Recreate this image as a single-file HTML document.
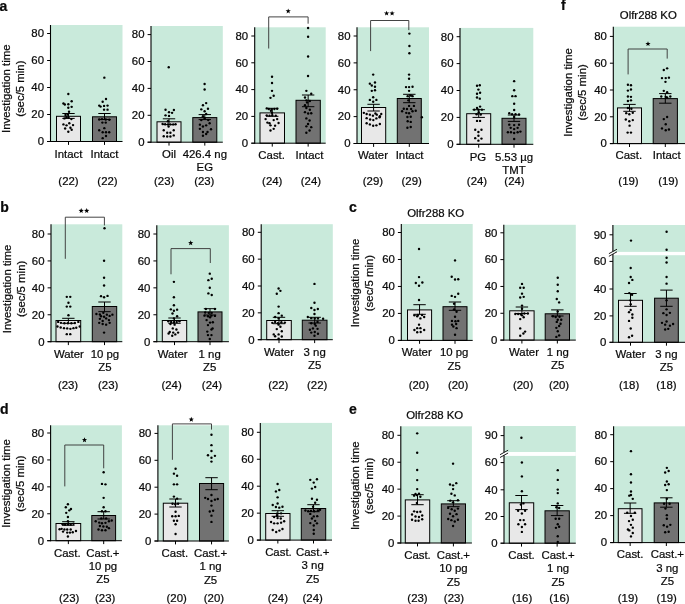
<!DOCTYPE html>
<html><head><meta charset="utf-8"><style>
html,body{margin:0;padding:0;background:#fff;}
svg{display:block;will-change:transform;}
text{font-family:"Liberation Sans", sans-serif;fill:#0a0a0a;stroke:#0a0a0a;stroke-width:0.22px;}
</style></head><body>
<svg width="685" height="604" viewBox="0 0 685 604" font-family="Liberation Sans, sans-serif">
<rect width="685" height="604" fill="#fff"/>
<rect x="50.50" y="25.00" width="72.00" height="116.50" fill="#c9eadb"/>
<line x1="47.10" y1="141.50" x2="50.50" y2="141.50" stroke="#000" stroke-width="1.0"/>
<text x="44.00" y="145.30" font-size="11.4" text-anchor="end" font-weight="normal" >0</text>
<line x1="47.10" y1="114.50" x2="50.50" y2="114.50" stroke="#000" stroke-width="1.0"/>
<text x="44.00" y="118.30" font-size="11.4" text-anchor="end" font-weight="normal" >20</text>
<line x1="47.10" y1="87.50" x2="50.50" y2="87.50" stroke="#000" stroke-width="1.0"/>
<text x="44.00" y="91.30" font-size="11.4" text-anchor="end" font-weight="normal" >40</text>
<line x1="47.10" y1="60.50" x2="50.50" y2="60.50" stroke="#000" stroke-width="1.0"/>
<text x="44.00" y="64.30" font-size="11.4" text-anchor="end" font-weight="normal" >60</text>
<line x1="47.10" y1="33.50" x2="50.50" y2="33.50" stroke="#000" stroke-width="1.0"/>
<text x="44.00" y="37.30" font-size="11.4" text-anchor="end" font-weight="normal" >80</text>
<rect x="56.50" y="116.30" width="24.00" height="25.20" fill="#e8e8e8" stroke="#000" stroke-width="1"/>
<line x1="68.50" y1="113.50" x2="68.50" y2="118.40" stroke="#000" stroke-width="1.0"/>
<line x1="62.30" y1="113.50" x2="74.70" y2="113.50" stroke="#000" stroke-width="1.0"/>
<line x1="62.30" y1="118.40" x2="74.70" y2="118.40" stroke="#000" stroke-width="1.0"/>
<line x1="68.50" y1="141.50" x2="68.50" y2="144.90" stroke="#000" stroke-width="1.0"/>
<text x="68.50" y="158.00" font-size="11.4" text-anchor="middle" font-weight="normal" >Intact</text>
<text x="68.50" y="185.00" font-size="11.4" text-anchor="middle" font-weight="normal" >(22)</text>
<rect x="92.50" y="116.80" width="24.00" height="24.70" fill="#727272" stroke="#000" stroke-width="1"/>
<line x1="104.50" y1="113.50" x2="104.50" y2="119.50" stroke="#000" stroke-width="1.0"/>
<line x1="98.30" y1="113.50" x2="110.70" y2="113.50" stroke="#000" stroke-width="1.0"/>
<line x1="98.30" y1="119.50" x2="110.70" y2="119.50" stroke="#000" stroke-width="1.0"/>
<line x1="104.50" y1="141.50" x2="104.50" y2="144.90" stroke="#000" stroke-width="1.0"/>
<text x="104.50" y="158.00" font-size="11.4" text-anchor="middle" font-weight="normal" >Intact</text>
<text x="107.50" y="185.00" font-size="11.4" text-anchor="middle" font-weight="normal" >(22)</text>
<line x1="50.50" y1="25.00" x2="50.50" y2="142.00" stroke="#000" stroke-width="1.1"/>
<line x1="47.10" y1="141.50" x2="122.50" y2="141.50" stroke="#000" stroke-width="1.0"/>
<rect x="151.00" y="26.00" width="71.80" height="116.20" fill="#c9eadb"/>
<line x1="147.60" y1="142.20" x2="151.00" y2="142.20" stroke="#000" stroke-width="1.0"/>
<text x="144.50" y="146.00" font-size="11.4" text-anchor="end" font-weight="normal" >0</text>
<line x1="147.60" y1="115.30" x2="151.00" y2="115.30" stroke="#000" stroke-width="1.0"/>
<text x="144.50" y="119.10" font-size="11.4" text-anchor="end" font-weight="normal" >20</text>
<line x1="147.60" y1="88.40" x2="151.00" y2="88.40" stroke="#000" stroke-width="1.0"/>
<text x="144.50" y="92.20" font-size="11.4" text-anchor="end" font-weight="normal" >40</text>
<line x1="147.60" y1="61.50" x2="151.00" y2="61.50" stroke="#000" stroke-width="1.0"/>
<text x="144.50" y="65.30" font-size="11.4" text-anchor="end" font-weight="normal" >60</text>
<line x1="147.60" y1="34.60" x2="151.00" y2="34.60" stroke="#000" stroke-width="1.0"/>
<text x="144.50" y="38.40" font-size="11.4" text-anchor="end" font-weight="normal" >80</text>
<rect x="157.00" y="121.80" width="24.00" height="20.40" fill="#e8e8e8" stroke="#000" stroke-width="1"/>
<line x1="169.00" y1="118.80" x2="169.00" y2="124.60" stroke="#000" stroke-width="1.0"/>
<line x1="162.80" y1="118.80" x2="175.20" y2="118.80" stroke="#000" stroke-width="1.0"/>
<line x1="162.80" y1="124.60" x2="175.20" y2="124.60" stroke="#000" stroke-width="1.0"/>
<line x1="169.00" y1="142.20" x2="169.00" y2="145.60" stroke="#000" stroke-width="1.0"/>
<text x="169.00" y="158.00" font-size="11.4" text-anchor="middle" font-weight="normal" >Oil</text>
<text x="164.20" y="185.00" font-size="11.4" text-anchor="middle" font-weight="normal" >(23)</text>
<rect x="192.80" y="117.60" width="24.00" height="24.60" fill="#727272" stroke="#000" stroke-width="1"/>
<line x1="204.80" y1="114.60" x2="204.80" y2="119.60" stroke="#000" stroke-width="1.0"/>
<line x1="198.60" y1="114.60" x2="211.00" y2="114.60" stroke="#000" stroke-width="1.0"/>
<line x1="198.60" y1="119.60" x2="211.00" y2="119.60" stroke="#000" stroke-width="1.0"/>
<line x1="204.80" y1="142.20" x2="204.80" y2="145.60" stroke="#000" stroke-width="1.0"/>
<text x="204.80" y="158.00" font-size="11.4" text-anchor="middle" font-weight="normal" >426.4 ng</text>
<text x="204.80" y="171.35" font-size="11.4" text-anchor="middle" font-weight="normal" >EG</text>
<text x="204.30" y="185.00" font-size="11.4" text-anchor="middle" font-weight="normal" >(23)</text>
<line x1="151.00" y1="26.00" x2="151.00" y2="142.70" stroke="#000" stroke-width="1.1"/>
<line x1="147.60" y1="142.20" x2="222.80" y2="142.20" stroke="#000" stroke-width="1.0"/>
<rect x="254.70" y="27.30" width="71.00" height="115.90" fill="#c9eadb"/>
<line x1="251.30" y1="143.20" x2="254.70" y2="143.20" stroke="#000" stroke-width="1.0"/>
<text x="248.20" y="147.00" font-size="11.4" text-anchor="end" font-weight="normal" >0</text>
<line x1="251.30" y1="116.40" x2="254.70" y2="116.40" stroke="#000" stroke-width="1.0"/>
<text x="248.20" y="120.20" font-size="11.4" text-anchor="end" font-weight="normal" >20</text>
<line x1="251.30" y1="89.60" x2="254.70" y2="89.60" stroke="#000" stroke-width="1.0"/>
<text x="248.20" y="93.40" font-size="11.4" text-anchor="end" font-weight="normal" >40</text>
<line x1="251.30" y1="62.80" x2="254.70" y2="62.80" stroke="#000" stroke-width="1.0"/>
<text x="248.20" y="66.60" font-size="11.4" text-anchor="end" font-weight="normal" >60</text>
<line x1="251.30" y1="36.00" x2="254.70" y2="36.00" stroke="#000" stroke-width="1.0"/>
<text x="248.20" y="39.80" font-size="11.4" text-anchor="end" font-weight="normal" >80</text>
<rect x="260.00" y="112.90" width="24.50" height="30.30" fill="#e8e8e8" stroke="#000" stroke-width="1"/>
<line x1="272.25" y1="108.30" x2="272.25" y2="116.30" stroke="#000" stroke-width="1.0"/>
<line x1="266.05" y1="108.30" x2="278.45" y2="108.30" stroke="#000" stroke-width="1.0"/>
<line x1="266.05" y1="116.30" x2="278.45" y2="116.30" stroke="#000" stroke-width="1.0"/>
<line x1="272.25" y1="143.20" x2="272.25" y2="146.60" stroke="#000" stroke-width="1.0"/>
<text x="271.65" y="159.00" font-size="11.4" text-anchor="middle" font-weight="normal" >Cast.</text>
<text x="272.25" y="185.00" font-size="11.4" text-anchor="middle" font-weight="normal" >(24)</text>
<rect x="296.00" y="100.30" width="24.30" height="42.90" fill="#727272" stroke="#000" stroke-width="1"/>
<line x1="308.15" y1="95.00" x2="308.15" y2="106.70" stroke="#000" stroke-width="1.0"/>
<line x1="301.95" y1="95.00" x2="314.35" y2="95.00" stroke="#000" stroke-width="1.0"/>
<line x1="301.95" y1="106.70" x2="314.35" y2="106.70" stroke="#000" stroke-width="1.0"/>
<line x1="308.15" y1="143.20" x2="308.15" y2="146.60" stroke="#000" stroke-width="1.0"/>
<text x="309.45" y="159.00" font-size="11.4" text-anchor="middle" font-weight="normal" >Intact</text>
<text x="310.95" y="185.00" font-size="11.4" text-anchor="middle" font-weight="normal" >(24)</text>
<line x1="254.70" y1="27.30" x2="254.70" y2="143.70" stroke="#000" stroke-width="1.1"/>
<line x1="251.30" y1="143.20" x2="325.70" y2="143.20" stroke="#000" stroke-width="1.0"/>
<polyline points="268.7,48.5 268.7,16.9 308.1,16.9 308.1,23.7" fill="none" stroke="#3a3a3a" stroke-width="0.95"/>
<polygon points="288.20,8.45 288.88,10.27 290.82,10.35 289.29,11.56 289.82,13.42 288.20,12.35 286.58,13.42 287.11,11.56 285.58,10.35 287.52,10.27" fill="#000"/>
<rect x="357.00" y="27.30" width="72.00" height="116.20" fill="#c9eadb"/>
<line x1="353.60" y1="143.50" x2="357.00" y2="143.50" stroke="#000" stroke-width="1.0"/>
<text x="350.50" y="147.30" font-size="11.4" text-anchor="end" font-weight="normal" >0</text>
<line x1="353.60" y1="116.62" x2="357.00" y2="116.62" stroke="#000" stroke-width="1.0"/>
<text x="350.50" y="120.42" font-size="11.4" text-anchor="end" font-weight="normal" >20</text>
<line x1="353.60" y1="89.75" x2="357.00" y2="89.75" stroke="#000" stroke-width="1.0"/>
<text x="350.50" y="93.55" font-size="11.4" text-anchor="end" font-weight="normal" >40</text>
<line x1="353.60" y1="62.88" x2="357.00" y2="62.88" stroke="#000" stroke-width="1.0"/>
<text x="350.50" y="66.67" font-size="11.4" text-anchor="end" font-weight="normal" >60</text>
<line x1="353.60" y1="36.00" x2="357.00" y2="36.00" stroke="#000" stroke-width="1.0"/>
<text x="350.50" y="39.80" font-size="11.4" text-anchor="end" font-weight="normal" >80</text>
<rect x="361.50" y="107.50" width="24.20" height="36.00" fill="#e8e8e8" stroke="#000" stroke-width="1"/>
<line x1="373.60" y1="104.30" x2="373.60" y2="111.00" stroke="#000" stroke-width="1.0"/>
<line x1="367.40" y1="104.30" x2="379.80" y2="104.30" stroke="#000" stroke-width="1.0"/>
<line x1="367.40" y1="111.00" x2="379.80" y2="111.00" stroke="#000" stroke-width="1.0"/>
<line x1="373.60" y1="143.50" x2="373.60" y2="146.90" stroke="#000" stroke-width="1.0"/>
<text x="373.00" y="159.30" font-size="11.4" text-anchor="middle" font-weight="normal" >Water</text>
<text x="372.90" y="185.00" font-size="11.4" text-anchor="middle" font-weight="normal" >(29)</text>
<rect x="397.30" y="98.50" width="24.00" height="45.00" fill="#727272" stroke="#000" stroke-width="1"/>
<line x1="409.30" y1="94.30" x2="409.30" y2="102.70" stroke="#000" stroke-width="1.0"/>
<line x1="403.10" y1="94.30" x2="415.50" y2="94.30" stroke="#000" stroke-width="1.0"/>
<line x1="403.10" y1="102.70" x2="415.50" y2="102.70" stroke="#000" stroke-width="1.0"/>
<line x1="409.30" y1="143.50" x2="409.30" y2="146.90" stroke="#000" stroke-width="1.0"/>
<text x="409.60" y="159.30" font-size="11.4" text-anchor="middle" font-weight="normal" >Intact</text>
<text x="411.70" y="185.00" font-size="11.4" text-anchor="middle" font-weight="normal" >(29)</text>
<line x1="357.00" y1="27.30" x2="357.00" y2="144.00" stroke="#000" stroke-width="1.1"/>
<line x1="353.60" y1="143.50" x2="429.00" y2="143.50" stroke="#000" stroke-width="1.0"/>
<polyline points="370.6,51.1 370.6,20.5 408.8,20.5 408.8,30.1" fill="none" stroke="#3a3a3a" stroke-width="0.95"/>
<polygon points="386.60,10.65 387.28,12.47 389.22,12.55 387.69,13.76 388.22,15.62 386.60,14.55 384.98,15.62 385.51,13.76 383.98,12.55 385.92,12.47" fill="#000"/>
<polygon points="392.10,10.65 392.78,12.47 394.72,12.55 393.19,13.76 393.72,15.62 392.10,14.55 390.48,15.62 391.01,13.76 389.48,12.55 391.42,12.47" fill="#000"/>
<rect x="460.00" y="27.90" width="73.30" height="116.40" fill="#c9eadb"/>
<line x1="456.60" y1="144.30" x2="460.00" y2="144.30" stroke="#000" stroke-width="1.0"/>
<text x="453.50" y="148.10" font-size="11.4" text-anchor="end" font-weight="normal" >0</text>
<line x1="456.60" y1="117.40" x2="460.00" y2="117.40" stroke="#000" stroke-width="1.0"/>
<text x="453.50" y="121.20" font-size="11.4" text-anchor="end" font-weight="normal" >20</text>
<line x1="456.60" y1="90.50" x2="460.00" y2="90.50" stroke="#000" stroke-width="1.0"/>
<text x="453.50" y="94.30" font-size="11.4" text-anchor="end" font-weight="normal" >40</text>
<line x1="456.60" y1="63.60" x2="460.00" y2="63.60" stroke="#000" stroke-width="1.0"/>
<text x="453.50" y="67.40" font-size="11.4" text-anchor="end" font-weight="normal" >60</text>
<line x1="456.60" y1="36.70" x2="460.00" y2="36.70" stroke="#000" stroke-width="1.0"/>
<text x="453.50" y="40.50" font-size="11.4" text-anchor="end" font-weight="normal" >80</text>
<rect x="466.70" y="113.70" width="24.00" height="30.60" fill="#e8e8e8" stroke="#000" stroke-width="1"/>
<line x1="478.70" y1="109.70" x2="478.70" y2="117.40" stroke="#000" stroke-width="1.0"/>
<line x1="472.50" y1="109.70" x2="484.90" y2="109.70" stroke="#000" stroke-width="1.0"/>
<line x1="472.50" y1="117.40" x2="484.90" y2="117.40" stroke="#000" stroke-width="1.0"/>
<line x1="478.70" y1="144.30" x2="478.70" y2="147.70" stroke="#000" stroke-width="1.0"/>
<text x="477.90" y="160.60" font-size="11.4" text-anchor="middle" font-weight="normal" >PG</text>
<text x="477.00" y="185.00" font-size="11.4" text-anchor="middle" font-weight="normal" >(24)</text>
<rect x="502.00" y="118.30" width="24.00" height="26.00" fill="#727272" stroke="#000" stroke-width="1"/>
<line x1="514.00" y1="115.00" x2="514.00" y2="121.40" stroke="#000" stroke-width="1.0"/>
<line x1="507.80" y1="115.00" x2="520.20" y2="115.00" stroke="#000" stroke-width="1.0"/>
<line x1="507.80" y1="121.40" x2="520.20" y2="121.40" stroke="#000" stroke-width="1.0"/>
<line x1="514.00" y1="144.30" x2="514.00" y2="147.70" stroke="#000" stroke-width="1.0"/>
<text x="514.00" y="160.60" font-size="11.4" text-anchor="middle" font-weight="normal" >5.53 µg</text>
<text x="514.00" y="173.95" font-size="11.4" text-anchor="middle" font-weight="normal" >TMT</text>
<text x="514.50" y="185.00" font-size="11.4" text-anchor="middle" font-weight="normal" >(24)</text>
<line x1="460.00" y1="27.90" x2="460.00" y2="144.80" stroke="#000" stroke-width="1.1"/>
<line x1="456.60" y1="144.30" x2="533.30" y2="144.30" stroke="#000" stroke-width="1.0"/>
<rect x="613.30" y="26.70" width="72.20" height="116.90" fill="#c9eadb"/>
<line x1="609.90" y1="143.60" x2="613.30" y2="143.60" stroke="#000" stroke-width="1.0"/>
<text x="606.80" y="147.40" font-size="11.4" text-anchor="end" font-weight="normal" >0</text>
<line x1="609.90" y1="116.80" x2="613.30" y2="116.80" stroke="#000" stroke-width="1.0"/>
<text x="606.80" y="120.60" font-size="11.4" text-anchor="end" font-weight="normal" >20</text>
<line x1="609.90" y1="90.00" x2="613.30" y2="90.00" stroke="#000" stroke-width="1.0"/>
<text x="606.80" y="93.80" font-size="11.4" text-anchor="end" font-weight="normal" >40</text>
<line x1="609.90" y1="63.20" x2="613.30" y2="63.20" stroke="#000" stroke-width="1.0"/>
<text x="606.80" y="67.00" font-size="11.4" text-anchor="end" font-weight="normal" >60</text>
<line x1="609.90" y1="36.40" x2="613.30" y2="36.40" stroke="#000" stroke-width="1.0"/>
<text x="606.80" y="40.20" font-size="11.4" text-anchor="end" font-weight="normal" >80</text>
<rect x="617.50" y="107.90" width="24.00" height="35.70" fill="#e8e8e8" stroke="#000" stroke-width="1"/>
<line x1="629.50" y1="104.40" x2="629.50" y2="111.30" stroke="#000" stroke-width="1.0"/>
<line x1="623.30" y1="104.40" x2="635.70" y2="104.40" stroke="#000" stroke-width="1.0"/>
<line x1="623.30" y1="111.30" x2="635.70" y2="111.30" stroke="#000" stroke-width="1.0"/>
<line x1="629.50" y1="143.60" x2="629.50" y2="147.00" stroke="#000" stroke-width="1.0"/>
<text x="628.80" y="159.40" font-size="11.4" text-anchor="middle" font-weight="normal" >Cast.</text>
<text x="628.50" y="185.00" font-size="11.4" text-anchor="middle" font-weight="normal" >(19)</text>
<rect x="653.20" y="98.60" width="24.20" height="45.00" fill="#727272" stroke="#000" stroke-width="1"/>
<line x1="665.30" y1="93.60" x2="665.30" y2="103.20" stroke="#000" stroke-width="1.0"/>
<line x1="659.10" y1="93.60" x2="671.50" y2="93.60" stroke="#000" stroke-width="1.0"/>
<line x1="659.10" y1="103.20" x2="671.50" y2="103.20" stroke="#000" stroke-width="1.0"/>
<line x1="665.30" y1="143.60" x2="665.30" y2="147.00" stroke="#000" stroke-width="1.0"/>
<text x="666.70" y="159.40" font-size="11.4" text-anchor="middle" font-weight="normal" >Intact</text>
<text x="668.30" y="185.00" font-size="11.4" text-anchor="middle" font-weight="normal" >(19)</text>
<line x1="613.30" y1="26.70" x2="613.30" y2="144.10" stroke="#000" stroke-width="1.1"/>
<line x1="609.90" y1="143.60" x2="685.50" y2="143.60" stroke="#000" stroke-width="1.0"/>
<polyline points="628.1,74.4 628.1,49.0 667.2,49.0 667.2,58.6" fill="none" stroke="#3a3a3a" stroke-width="0.95"/>
<polygon points="648.00,41.15 648.68,42.97 650.62,43.05 649.09,44.26 649.62,46.12 648.00,45.05 646.38,46.12 646.91,44.26 645.38,43.05 647.32,42.97" fill="#000"/>
<rect x="51.00" y="224.30" width="71.30" height="117.40" fill="#c9eadb"/>
<line x1="47.60" y1="341.70" x2="51.00" y2="341.70" stroke="#000" stroke-width="1.0"/>
<text x="44.50" y="345.50" font-size="11.4" text-anchor="end" font-weight="normal" >0</text>
<line x1="47.60" y1="314.77" x2="51.00" y2="314.77" stroke="#000" stroke-width="1.0"/>
<text x="44.50" y="318.57" font-size="11.4" text-anchor="end" font-weight="normal" >20</text>
<line x1="47.60" y1="287.85" x2="51.00" y2="287.85" stroke="#000" stroke-width="1.0"/>
<text x="44.50" y="291.65" font-size="11.4" text-anchor="end" font-weight="normal" >40</text>
<line x1="47.60" y1="260.93" x2="51.00" y2="260.93" stroke="#000" stroke-width="1.0"/>
<text x="44.50" y="264.73" font-size="11.4" text-anchor="end" font-weight="normal" >60</text>
<line x1="47.60" y1="234.00" x2="51.00" y2="234.00" stroke="#000" stroke-width="1.0"/>
<text x="44.50" y="237.80" font-size="11.4" text-anchor="end" font-weight="normal" >80</text>
<rect x="56.00" y="320.50" width="24.70" height="21.20" fill="#e8e8e8" stroke="#000" stroke-width="1"/>
<line x1="68.35" y1="318.30" x2="68.35" y2="323.30" stroke="#000" stroke-width="1.0"/>
<line x1="62.15" y1="318.30" x2="74.55" y2="318.30" stroke="#000" stroke-width="1.0"/>
<line x1="62.15" y1="323.30" x2="74.55" y2="323.30" stroke="#000" stroke-width="1.0"/>
<line x1="68.35" y1="341.70" x2="68.35" y2="345.10" stroke="#000" stroke-width="1.0"/>
<text x="68.95" y="357.50" font-size="11.4" text-anchor="middle" font-weight="normal" >Water</text>
<text x="68.05" y="388.70" font-size="11.4" text-anchor="middle" font-weight="normal" >(23)</text>
<rect x="92.30" y="306.50" width="24.40" height="35.20" fill="#727272" stroke="#000" stroke-width="1"/>
<line x1="104.50" y1="302.00" x2="104.50" y2="311.70" stroke="#000" stroke-width="1.0"/>
<line x1="98.30" y1="302.00" x2="110.70" y2="302.00" stroke="#000" stroke-width="1.0"/>
<line x1="98.30" y1="311.70" x2="110.70" y2="311.70" stroke="#000" stroke-width="1.0"/>
<line x1="104.50" y1="341.70" x2="104.50" y2="345.10" stroke="#000" stroke-width="1.0"/>
<text x="104.90" y="357.50" font-size="11.4" text-anchor="middle" font-weight="normal" >10 pg</text>
<text x="104.90" y="370.85" font-size="11.4" text-anchor="middle" font-weight="normal" >Z5</text>
<text x="108.20" y="388.70" font-size="11.4" text-anchor="middle" font-weight="normal" >(23)</text>
<line x1="51.00" y1="224.30" x2="51.00" y2="342.20" stroke="#000" stroke-width="1.1"/>
<line x1="47.60" y1="341.70" x2="122.30" y2="341.70" stroke="#000" stroke-width="1.0"/>
<polyline points="65.3,258.8 65.3,217.2 104.4,217.2 104.4,225.4" fill="none" stroke="#3a3a3a" stroke-width="0.95"/>
<polygon points="81.20,208.05 81.88,209.87 83.82,209.95 82.29,211.16 82.82,213.02 81.20,211.95 79.58,213.02 80.11,211.16 78.58,209.95 80.52,209.87" fill="#000"/>
<polygon points="86.70,208.05 87.38,209.87 89.32,209.95 87.79,211.16 88.32,213.02 86.70,211.95 85.08,213.02 85.61,211.16 84.08,209.95 86.02,209.87" fill="#000"/>
<rect x="156.80" y="225.20" width="72.10" height="116.50" fill="#c9eadb"/>
<line x1="153.40" y1="341.70" x2="156.80" y2="341.70" stroke="#000" stroke-width="1.0"/>
<text x="150.30" y="345.50" font-size="11.4" text-anchor="end" font-weight="normal" >0</text>
<line x1="153.40" y1="314.77" x2="156.80" y2="314.77" stroke="#000" stroke-width="1.0"/>
<text x="150.30" y="318.57" font-size="11.4" text-anchor="end" font-weight="normal" >20</text>
<line x1="153.40" y1="287.85" x2="156.80" y2="287.85" stroke="#000" stroke-width="1.0"/>
<text x="150.30" y="291.65" font-size="11.4" text-anchor="end" font-weight="normal" >40</text>
<line x1="153.40" y1="260.93" x2="156.80" y2="260.93" stroke="#000" stroke-width="1.0"/>
<text x="150.30" y="264.73" font-size="11.4" text-anchor="end" font-weight="normal" >60</text>
<line x1="153.40" y1="234.00" x2="156.80" y2="234.00" stroke="#000" stroke-width="1.0"/>
<text x="150.30" y="237.80" font-size="11.4" text-anchor="end" font-weight="normal" >80</text>
<rect x="162.30" y="320.50" width="24.40" height="21.20" fill="#e8e8e8" stroke="#000" stroke-width="1"/>
<line x1="174.50" y1="318.00" x2="174.50" y2="323.30" stroke="#000" stroke-width="1.0"/>
<line x1="168.30" y1="318.00" x2="180.70" y2="318.00" stroke="#000" stroke-width="1.0"/>
<line x1="168.30" y1="323.30" x2="180.70" y2="323.30" stroke="#000" stroke-width="1.0"/>
<line x1="174.50" y1="341.70" x2="174.50" y2="345.10" stroke="#000" stroke-width="1.0"/>
<text x="172.70" y="357.50" font-size="11.4" text-anchor="middle" font-weight="normal" >Water</text>
<text x="171.60" y="388.70" font-size="11.4" text-anchor="middle" font-weight="normal" >(24)</text>
<rect x="198.00" y="311.90" width="24.00" height="29.80" fill="#727272" stroke="#000" stroke-width="1"/>
<line x1="210.00" y1="308.70" x2="210.00" y2="315.00" stroke="#000" stroke-width="1.0"/>
<line x1="203.80" y1="308.70" x2="216.20" y2="308.70" stroke="#000" stroke-width="1.0"/>
<line x1="203.80" y1="315.00" x2="216.20" y2="315.00" stroke="#000" stroke-width="1.0"/>
<line x1="210.00" y1="341.70" x2="210.00" y2="345.10" stroke="#000" stroke-width="1.0"/>
<text x="209.70" y="357.50" font-size="11.4" text-anchor="middle" font-weight="normal" >1 ng</text>
<text x="209.70" y="370.85" font-size="11.4" text-anchor="middle" font-weight="normal" >Z5</text>
<text x="212.00" y="388.70" font-size="11.4" text-anchor="middle" font-weight="normal" >(24)</text>
<line x1="156.80" y1="225.20" x2="156.80" y2="342.20" stroke="#000" stroke-width="1.1"/>
<line x1="153.40" y1="341.70" x2="228.90" y2="341.70" stroke="#000" stroke-width="1.0"/>
<polyline points="171.0,274.3 171.0,248.6 210.3,248.6 210.3,263.0" fill="none" stroke="#3a3a3a" stroke-width="0.95"/>
<polygon points="190.70,240.25 191.38,242.07 193.32,242.15 191.79,243.36 192.32,245.22 190.70,244.15 189.08,245.22 189.61,243.36 188.08,242.15 190.02,242.07" fill="#000"/>
<rect x="261.20" y="224.20" width="71.60" height="115.50" fill="#c9eadb"/>
<line x1="257.80" y1="339.70" x2="261.20" y2="339.70" stroke="#000" stroke-width="1.0"/>
<text x="254.70" y="343.50" font-size="11.4" text-anchor="end" font-weight="normal" >0</text>
<line x1="257.80" y1="312.85" x2="261.20" y2="312.85" stroke="#000" stroke-width="1.0"/>
<text x="254.70" y="316.65" font-size="11.4" text-anchor="end" font-weight="normal" >20</text>
<line x1="257.80" y1="286.00" x2="261.20" y2="286.00" stroke="#000" stroke-width="1.0"/>
<text x="254.70" y="289.80" font-size="11.4" text-anchor="end" font-weight="normal" >40</text>
<line x1="257.80" y1="259.15" x2="261.20" y2="259.15" stroke="#000" stroke-width="1.0"/>
<text x="254.70" y="262.95" font-size="11.4" text-anchor="end" font-weight="normal" >60</text>
<line x1="257.80" y1="232.30" x2="261.20" y2="232.30" stroke="#000" stroke-width="1.0"/>
<text x="254.70" y="236.10" font-size="11.4" text-anchor="end" font-weight="normal" >80</text>
<rect x="266.70" y="320.50" width="24.60" height="19.20" fill="#e8e8e8" stroke="#000" stroke-width="1"/>
<line x1="279.00" y1="317.30" x2="279.00" y2="323.70" stroke="#000" stroke-width="1.0"/>
<line x1="272.80" y1="317.30" x2="285.20" y2="317.30" stroke="#000" stroke-width="1.0"/>
<line x1="272.80" y1="323.70" x2="285.20" y2="323.70" stroke="#000" stroke-width="1.0"/>
<line x1="279.00" y1="339.70" x2="279.00" y2="343.10" stroke="#000" stroke-width="1.0"/>
<text x="279.00" y="355.50" font-size="11.4" text-anchor="middle" font-weight="normal" >Water</text>
<text x="278.30" y="388.70" font-size="11.4" text-anchor="middle" font-weight="normal" >(22)</text>
<rect x="302.30" y="320.20" width="24.70" height="19.50" fill="#727272" stroke="#000" stroke-width="1"/>
<line x1="314.65" y1="317.30" x2="314.65" y2="323.00" stroke="#000" stroke-width="1.0"/>
<line x1="308.45" y1="317.30" x2="320.85" y2="317.30" stroke="#000" stroke-width="1.0"/>
<line x1="308.45" y1="323.00" x2="320.85" y2="323.00" stroke="#000" stroke-width="1.0"/>
<line x1="314.65" y1="339.70" x2="314.65" y2="343.10" stroke="#000" stroke-width="1.0"/>
<text x="314.65" y="355.50" font-size="11.4" text-anchor="middle" font-weight="normal" >3 ng</text>
<text x="314.65" y="368.85" font-size="11.4" text-anchor="middle" font-weight="normal" >Z5</text>
<text x="317.15" y="388.70" font-size="11.4" text-anchor="middle" font-weight="normal" >(22)</text>
<line x1="261.20" y1="224.20" x2="261.20" y2="340.20" stroke="#000" stroke-width="1.1"/>
<line x1="257.80" y1="339.70" x2="332.80" y2="339.70" stroke="#000" stroke-width="1.0"/>
<rect x="401.30" y="224.00" width="71.40" height="116.40" fill="#c9eadb"/>
<line x1="397.90" y1="340.40" x2="401.30" y2="340.40" stroke="#000" stroke-width="1.0"/>
<text x="394.80" y="344.20" font-size="11.4" text-anchor="end" font-weight="normal" >0</text>
<line x1="397.90" y1="313.42" x2="401.30" y2="313.42" stroke="#000" stroke-width="1.0"/>
<text x="394.80" y="317.22" font-size="11.4" text-anchor="end" font-weight="normal" >20</text>
<line x1="397.90" y1="286.45" x2="401.30" y2="286.45" stroke="#000" stroke-width="1.0"/>
<text x="394.80" y="290.25" font-size="11.4" text-anchor="end" font-weight="normal" >40</text>
<line x1="397.90" y1="259.48" x2="401.30" y2="259.48" stroke="#000" stroke-width="1.0"/>
<text x="394.80" y="263.28" font-size="11.4" text-anchor="end" font-weight="normal" >60</text>
<line x1="397.90" y1="232.50" x2="401.30" y2="232.50" stroke="#000" stroke-width="1.0"/>
<text x="394.80" y="236.30" font-size="11.4" text-anchor="end" font-weight="normal" >80</text>
<rect x="407.50" y="309.90" width="24.10" height="30.50" fill="#e8e8e8" stroke="#000" stroke-width="1"/>
<line x1="419.55" y1="304.70" x2="419.55" y2="314.30" stroke="#000" stroke-width="1.0"/>
<line x1="413.35" y1="304.70" x2="425.75" y2="304.70" stroke="#000" stroke-width="1.0"/>
<line x1="413.35" y1="314.30" x2="425.75" y2="314.30" stroke="#000" stroke-width="1.0"/>
<line x1="419.55" y1="340.40" x2="419.55" y2="343.80" stroke="#000" stroke-width="1.0"/>
<text x="416.75" y="356.20" font-size="11.4" text-anchor="middle" font-weight="normal" >Water</text>
<text x="418.85" y="388.70" font-size="11.4" text-anchor="middle" font-weight="normal" >(20)</text>
<rect x="443.00" y="306.70" width="24.00" height="33.70" fill="#727272" stroke="#000" stroke-width="1"/>
<line x1="455.00" y1="302.00" x2="455.00" y2="310.30" stroke="#000" stroke-width="1.0"/>
<line x1="448.80" y1="302.00" x2="461.20" y2="302.00" stroke="#000" stroke-width="1.0"/>
<line x1="448.80" y1="310.30" x2="461.20" y2="310.30" stroke="#000" stroke-width="1.0"/>
<line x1="455.00" y1="340.40" x2="455.00" y2="343.80" stroke="#000" stroke-width="1.0"/>
<text x="454.20" y="356.20" font-size="11.4" text-anchor="middle" font-weight="normal" >10 pg</text>
<text x="454.20" y="369.55" font-size="11.4" text-anchor="middle" font-weight="normal" >Z5</text>
<text x="458.10" y="388.70" font-size="11.4" text-anchor="middle" font-weight="normal" >(20)</text>
<line x1="401.30" y1="224.00" x2="401.30" y2="340.90" stroke="#000" stroke-width="1.1"/>
<line x1="397.90" y1="340.40" x2="472.70" y2="340.40" stroke="#000" stroke-width="1.0"/>
<rect x="503.80" y="224.80" width="72.00" height="115.30" fill="#c9eadb"/>
<line x1="500.40" y1="340.10" x2="503.80" y2="340.10" stroke="#000" stroke-width="1.0"/>
<text x="497.30" y="343.90" font-size="11.4" text-anchor="end" font-weight="normal" >0</text>
<line x1="500.40" y1="313.28" x2="503.80" y2="313.28" stroke="#000" stroke-width="1.0"/>
<text x="497.30" y="317.08" font-size="11.4" text-anchor="end" font-weight="normal" >20</text>
<line x1="500.40" y1="286.45" x2="503.80" y2="286.45" stroke="#000" stroke-width="1.0"/>
<text x="497.30" y="290.25" font-size="11.4" text-anchor="end" font-weight="normal" >40</text>
<line x1="500.40" y1="259.62" x2="503.80" y2="259.62" stroke="#000" stroke-width="1.0"/>
<text x="497.30" y="263.43" font-size="11.4" text-anchor="end" font-weight="normal" >60</text>
<line x1="500.40" y1="232.80" x2="503.80" y2="232.80" stroke="#000" stroke-width="1.0"/>
<text x="497.30" y="236.60" font-size="11.4" text-anchor="end" font-weight="normal" >80</text>
<rect x="509.70" y="310.80" width="24.40" height="29.30" fill="#e8e8e8" stroke="#000" stroke-width="1"/>
<line x1="521.90" y1="307.00" x2="521.90" y2="313.50" stroke="#000" stroke-width="1.0"/>
<line x1="515.70" y1="307.00" x2="528.10" y2="307.00" stroke="#000" stroke-width="1.0"/>
<line x1="515.70" y1="313.50" x2="528.10" y2="313.50" stroke="#000" stroke-width="1.0"/>
<line x1="521.90" y1="340.10" x2="521.90" y2="343.50" stroke="#000" stroke-width="1.0"/>
<text x="524.00" y="355.90" font-size="11.4" text-anchor="middle" font-weight="normal" >Water</text>
<text x="523.10" y="388.70" font-size="11.4" text-anchor="middle" font-weight="normal" >(20)</text>
<rect x="545.20" y="313.80" width="24.30" height="26.30" fill="#727272" stroke="#000" stroke-width="1"/>
<line x1="557.35" y1="309.90" x2="557.35" y2="316.00" stroke="#000" stroke-width="1.0"/>
<line x1="551.15" y1="309.90" x2="563.55" y2="309.90" stroke="#000" stroke-width="1.0"/>
<line x1="551.15" y1="316.00" x2="563.55" y2="316.00" stroke="#000" stroke-width="1.0"/>
<line x1="557.35" y1="340.10" x2="557.35" y2="343.50" stroke="#000" stroke-width="1.0"/>
<text x="557.75" y="355.90" font-size="11.4" text-anchor="middle" font-weight="normal" >1 ng</text>
<text x="557.75" y="369.25" font-size="11.4" text-anchor="middle" font-weight="normal" >Z5</text>
<text x="559.05" y="388.70" font-size="11.4" text-anchor="middle" font-weight="normal" >(20)</text>
<line x1="503.80" y1="224.80" x2="503.80" y2="340.60" stroke="#000" stroke-width="1.1"/>
<line x1="500.40" y1="340.10" x2="575.80" y2="340.10" stroke="#000" stroke-width="1.0"/>
<rect x="612.90" y="225.00" width="72.60" height="117.30" fill="#c9eadb"/>
<rect x="612.90" y="251.90" width="72.60" height="3.30" fill="#fff"/>
<line x1="609.50" y1="342.30" x2="612.90" y2="342.30" stroke="#000" stroke-width="1.0"/>
<text x="606.40" y="346.10" font-size="11.4" text-anchor="end" font-weight="normal" >0</text>
<line x1="609.50" y1="315.90" x2="612.90" y2="315.90" stroke="#000" stroke-width="1.0"/>
<text x="606.40" y="319.70" font-size="11.4" text-anchor="end" font-weight="normal" >20</text>
<line x1="609.50" y1="289.00" x2="612.90" y2="289.00" stroke="#000" stroke-width="1.0"/>
<text x="606.40" y="292.80" font-size="11.4" text-anchor="end" font-weight="normal" >40</text>
<line x1="609.50" y1="261.40" x2="612.90" y2="261.40" stroke="#000" stroke-width="1.0"/>
<text x="606.40" y="265.20" font-size="11.4" text-anchor="end" font-weight="normal" >60</text>
<line x1="609.50" y1="234.80" x2="612.90" y2="234.80" stroke="#000" stroke-width="1.0"/>
<text x="606.40" y="238.60" font-size="11.4" text-anchor="end" font-weight="normal" >90</text>
<rect x="618.50" y="300.30" width="24.00" height="42.00" fill="#e8e8e8" stroke="#000" stroke-width="1"/>
<line x1="630.50" y1="293.50" x2="630.50" y2="306.30" stroke="#000" stroke-width="1.0"/>
<line x1="624.30" y1="293.50" x2="636.70" y2="293.50" stroke="#000" stroke-width="1.0"/>
<line x1="624.30" y1="306.30" x2="636.70" y2="306.30" stroke="#000" stroke-width="1.0"/>
<line x1="630.50" y1="342.30" x2="630.50" y2="345.70" stroke="#000" stroke-width="1.0"/>
<text x="630.50" y="358.10" font-size="11.4" text-anchor="middle" font-weight="normal" >Water</text>
<text x="629.10" y="388.70" font-size="11.4" text-anchor="middle" font-weight="normal" >(18)</text>
<rect x="654.60" y="298.20" width="23.70" height="44.10" fill="#727272" stroke="#000" stroke-width="1"/>
<line x1="666.45" y1="290.10" x2="666.45" y2="306.30" stroke="#000" stroke-width="1.0"/>
<line x1="660.25" y1="290.10" x2="672.65" y2="290.10" stroke="#000" stroke-width="1.0"/>
<line x1="660.25" y1="306.30" x2="672.65" y2="306.30" stroke="#000" stroke-width="1.0"/>
<line x1="666.45" y1="342.30" x2="666.45" y2="345.70" stroke="#000" stroke-width="1.0"/>
<text x="666.45" y="358.10" font-size="11.4" text-anchor="middle" font-weight="normal" >3 ng</text>
<text x="666.45" y="371.45" font-size="11.4" text-anchor="middle" font-weight="normal" >Z5</text>
<text x="666.45" y="388.70" font-size="11.4" text-anchor="middle" font-weight="normal" >(18)</text>
<line x1="612.90" y1="225.00" x2="612.90" y2="251.45" stroke="#000" stroke-width="1.1"/>
<line x1="612.90" y1="254.05" x2="612.90" y2="342.80" stroke="#000" stroke-width="1.1"/>
<line x1="608.90" y1="253.70" x2="617.00" y2="249.20" stroke="#111" stroke-width="0.95"/>
<line x1="608.90" y1="256.30" x2="617.00" y2="251.80" stroke="#111" stroke-width="0.95"/>
<line x1="609.50" y1="342.30" x2="685.50" y2="342.30" stroke="#000" stroke-width="1.0"/>
<rect x="50.60" y="425.30" width="71.30" height="115.40" fill="#c9eadb"/>
<line x1="47.20" y1="540.70" x2="50.60" y2="540.70" stroke="#000" stroke-width="1.0"/>
<text x="44.10" y="544.50" font-size="11.4" text-anchor="end" font-weight="normal" >0</text>
<line x1="47.20" y1="513.78" x2="50.60" y2="513.78" stroke="#000" stroke-width="1.0"/>
<text x="44.10" y="517.58" font-size="11.4" text-anchor="end" font-weight="normal" >20</text>
<line x1="47.20" y1="486.85" x2="50.60" y2="486.85" stroke="#000" stroke-width="1.0"/>
<text x="44.10" y="490.65" font-size="11.4" text-anchor="end" font-weight="normal" >40</text>
<line x1="47.20" y1="459.93" x2="50.60" y2="459.93" stroke="#000" stroke-width="1.0"/>
<text x="44.10" y="463.73" font-size="11.4" text-anchor="end" font-weight="normal" >60</text>
<line x1="47.20" y1="433.00" x2="50.60" y2="433.00" stroke="#000" stroke-width="1.0"/>
<text x="44.10" y="436.80" font-size="11.4" text-anchor="end" font-weight="normal" >80</text>
<rect x="56.00" y="523.50" width="24.70" height="17.20" fill="#e8e8e8" stroke="#000" stroke-width="1"/>
<line x1="68.35" y1="521.70" x2="68.35" y2="525.30" stroke="#000" stroke-width="1.0"/>
<line x1="62.15" y1="521.70" x2="74.55" y2="521.70" stroke="#000" stroke-width="1.0"/>
<line x1="62.15" y1="525.30" x2="74.55" y2="525.30" stroke="#000" stroke-width="1.0"/>
<line x1="68.35" y1="540.70" x2="68.35" y2="544.10" stroke="#000" stroke-width="1.0"/>
<text x="67.35" y="556.50" font-size="11.4" text-anchor="middle" font-weight="normal" >Cast.</text>
<text x="69.15" y="601.80" font-size="11.4" text-anchor="middle" font-weight="normal" >(23)</text>
<rect x="91.80" y="515.50" width="23.80" height="25.20" fill="#727272" stroke="#000" stroke-width="1"/>
<line x1="103.70" y1="511.70" x2="103.70" y2="519.00" stroke="#000" stroke-width="1.0"/>
<line x1="97.50" y1="511.70" x2="109.90" y2="511.70" stroke="#000" stroke-width="1.0"/>
<line x1="97.50" y1="519.00" x2="109.90" y2="519.00" stroke="#000" stroke-width="1.0"/>
<line x1="103.70" y1="540.70" x2="103.70" y2="544.10" stroke="#000" stroke-width="1.0"/>
<text x="102.90" y="556.50" font-size="11.4" text-anchor="middle" font-weight="normal" >Cast.+</text>
<text x="102.90" y="569.85" font-size="11.4" text-anchor="middle" font-weight="normal" >10 pg</text>
<text x="102.90" y="583.20" font-size="11.4" text-anchor="middle" font-weight="normal" >Z5</text>
<text x="105.20" y="601.80" font-size="11.4" text-anchor="middle" font-weight="normal" >(23)</text>
<line x1="50.60" y1="425.30" x2="50.60" y2="541.20" stroke="#000" stroke-width="1.1"/>
<line x1="47.20" y1="540.70" x2="121.90" y2="540.70" stroke="#000" stroke-width="1.0"/>
<polyline points="64.8,486.4 64.8,445.0 103.7,445.0 103.7,468.3" fill="none" stroke="#3a3a3a" stroke-width="0.95"/>
<polygon points="84.50,437.25 85.18,439.07 87.12,439.15 85.59,440.36 86.12,442.22 84.50,441.15 82.88,442.22 83.41,440.36 81.88,439.15 83.82,439.07" fill="#000"/>
<rect x="157.90" y="425.30" width="71.00" height="115.70" fill="#c9eadb"/>
<line x1="154.50" y1="541.00" x2="157.90" y2="541.00" stroke="#000" stroke-width="1.0"/>
<text x="151.40" y="544.80" font-size="11.4" text-anchor="end" font-weight="normal" >0</text>
<line x1="154.50" y1="514.10" x2="157.90" y2="514.10" stroke="#000" stroke-width="1.0"/>
<text x="151.40" y="517.90" font-size="11.4" text-anchor="end" font-weight="normal" >20</text>
<line x1="154.50" y1="487.20" x2="157.90" y2="487.20" stroke="#000" stroke-width="1.0"/>
<text x="151.40" y="491.00" font-size="11.4" text-anchor="end" font-weight="normal" >40</text>
<line x1="154.50" y1="460.30" x2="157.90" y2="460.30" stroke="#000" stroke-width="1.0"/>
<text x="151.40" y="464.10" font-size="11.4" text-anchor="end" font-weight="normal" >60</text>
<line x1="154.50" y1="433.40" x2="157.90" y2="433.40" stroke="#000" stroke-width="1.0"/>
<text x="151.40" y="437.20" font-size="11.4" text-anchor="end" font-weight="normal" >80</text>
<rect x="163.30" y="503.20" width="24.40" height="37.80" fill="#e8e8e8" stroke="#000" stroke-width="1"/>
<line x1="175.50" y1="499.00" x2="175.50" y2="507.00" stroke="#000" stroke-width="1.0"/>
<line x1="169.30" y1="499.00" x2="181.70" y2="499.00" stroke="#000" stroke-width="1.0"/>
<line x1="169.30" y1="507.00" x2="181.70" y2="507.00" stroke="#000" stroke-width="1.0"/>
<line x1="175.50" y1="541.00" x2="175.50" y2="544.40" stroke="#000" stroke-width="1.0"/>
<text x="174.90" y="556.80" font-size="11.4" text-anchor="middle" font-weight="normal" >Cast.</text>
<text x="176.70" y="601.80" font-size="11.4" text-anchor="middle" font-weight="normal" >(20)</text>
<rect x="199.50" y="483.50" width="24.10" height="57.50" fill="#727272" stroke="#000" stroke-width="1"/>
<line x1="211.55" y1="477.70" x2="211.55" y2="489.70" stroke="#000" stroke-width="1.0"/>
<line x1="205.35" y1="477.70" x2="217.75" y2="477.70" stroke="#000" stroke-width="1.0"/>
<line x1="205.35" y1="489.70" x2="217.75" y2="489.70" stroke="#000" stroke-width="1.0"/>
<line x1="211.55" y1="541.00" x2="211.55" y2="544.40" stroke="#000" stroke-width="1.0"/>
<text x="210.55" y="556.80" font-size="11.4" text-anchor="middle" font-weight="normal" >Cast.+</text>
<text x="210.55" y="570.15" font-size="11.4" text-anchor="middle" font-weight="normal" >1 ng</text>
<text x="210.55" y="583.50" font-size="11.4" text-anchor="middle" font-weight="normal" >Z5</text>
<text x="213.95" y="601.80" font-size="11.4" text-anchor="middle" font-weight="normal" >(20)</text>
<line x1="157.90" y1="425.30" x2="157.90" y2="541.50" stroke="#000" stroke-width="1.1"/>
<line x1="154.50" y1="541.00" x2="228.90" y2="541.00" stroke="#000" stroke-width="1.0"/>
<polyline points="172.4,459.8 172.4,423.9 211.5,423.9 211.5,429.6" fill="none" stroke="#3a3a3a" stroke-width="0.95"/>
<polygon points="191.30,416.75 191.98,418.57 193.92,418.65 192.39,419.86 192.92,421.72 191.30,420.65 189.68,421.72 190.21,419.86 188.68,418.65 190.62,418.57" fill="#000"/>
<rect x="260.30" y="422.90" width="71.70" height="117.20" fill="#c9eadb"/>
<line x1="256.90" y1="540.10" x2="260.30" y2="540.10" stroke="#000" stroke-width="1.0"/>
<text x="253.80" y="543.90" font-size="11.4" text-anchor="end" font-weight="normal" >0</text>
<line x1="256.90" y1="513.15" x2="260.30" y2="513.15" stroke="#000" stroke-width="1.0"/>
<text x="253.80" y="516.95" font-size="11.4" text-anchor="end" font-weight="normal" >20</text>
<line x1="256.90" y1="486.20" x2="260.30" y2="486.20" stroke="#000" stroke-width="1.0"/>
<text x="253.80" y="490.00" font-size="11.4" text-anchor="end" font-weight="normal" >40</text>
<line x1="256.90" y1="459.25" x2="260.30" y2="459.25" stroke="#000" stroke-width="1.0"/>
<text x="253.80" y="463.05" font-size="11.4" text-anchor="end" font-weight="normal" >60</text>
<line x1="256.90" y1="432.30" x2="260.30" y2="432.30" stroke="#000" stroke-width="1.0"/>
<text x="253.80" y="436.10" font-size="11.4" text-anchor="end" font-weight="normal" >80</text>
<rect x="265.70" y="513.50" width="24.30" height="26.60" fill="#e8e8e8" stroke="#000" stroke-width="1"/>
<line x1="277.85" y1="510.70" x2="277.85" y2="516.30" stroke="#000" stroke-width="1.0"/>
<line x1="271.65" y1="510.70" x2="284.05" y2="510.70" stroke="#000" stroke-width="1.0"/>
<line x1="271.65" y1="516.30" x2="284.05" y2="516.30" stroke="#000" stroke-width="1.0"/>
<line x1="277.85" y1="540.10" x2="277.85" y2="543.50" stroke="#000" stroke-width="1.0"/>
<text x="278.45" y="555.90" font-size="11.4" text-anchor="middle" font-weight="normal" >Cast.</text>
<text x="277.85" y="601.80" font-size="11.4" text-anchor="middle" font-weight="normal" >(24)</text>
<rect x="301.30" y="508.50" width="24.40" height="31.60" fill="#727272" stroke="#000" stroke-width="1"/>
<line x1="313.50" y1="504.70" x2="313.50" y2="511.70" stroke="#000" stroke-width="1.0"/>
<line x1="307.30" y1="504.70" x2="319.70" y2="504.70" stroke="#000" stroke-width="1.0"/>
<line x1="307.30" y1="511.70" x2="319.70" y2="511.70" stroke="#000" stroke-width="1.0"/>
<line x1="313.50" y1="540.10" x2="313.50" y2="543.50" stroke="#000" stroke-width="1.0"/>
<text x="312.70" y="555.90" font-size="11.4" text-anchor="middle" font-weight="normal" >Cast.+</text>
<text x="312.70" y="569.25" font-size="11.4" text-anchor="middle" font-weight="normal" >3 ng</text>
<text x="312.70" y="582.60" font-size="11.4" text-anchor="middle" font-weight="normal" >Z5</text>
<text x="312.70" y="601.80" font-size="11.4" text-anchor="middle" font-weight="normal" >(24)</text>
<line x1="260.30" y1="422.90" x2="260.30" y2="540.60" stroke="#000" stroke-width="1.1"/>
<line x1="256.90" y1="540.10" x2="332.00" y2="540.10" stroke="#000" stroke-width="1.0"/>
<rect x="400.80" y="426.30" width="71.10" height="116.70" fill="#c9eadb"/>
<line x1="397.40" y1="543.00" x2="400.80" y2="543.00" stroke="#000" stroke-width="1.0"/>
<text x="394.30" y="546.80" font-size="11.4" text-anchor="end" font-weight="normal" >0</text>
<line x1="397.40" y1="516.08" x2="400.80" y2="516.08" stroke="#000" stroke-width="1.0"/>
<text x="394.30" y="519.88" font-size="11.4" text-anchor="end" font-weight="normal" >20</text>
<line x1="397.40" y1="489.15" x2="400.80" y2="489.15" stroke="#000" stroke-width="1.0"/>
<text x="394.30" y="492.95" font-size="11.4" text-anchor="end" font-weight="normal" >40</text>
<line x1="397.40" y1="462.23" x2="400.80" y2="462.23" stroke="#000" stroke-width="1.0"/>
<text x="394.30" y="466.03" font-size="11.4" text-anchor="end" font-weight="normal" >60</text>
<line x1="397.40" y1="435.30" x2="400.80" y2="435.30" stroke="#000" stroke-width="1.0"/>
<text x="394.30" y="439.10" font-size="11.4" text-anchor="end" font-weight="normal" >80</text>
<rect x="405.30" y="499.90" width="24.40" height="43.10" fill="#e8e8e8" stroke="#000" stroke-width="1"/>
<line x1="417.50" y1="494.70" x2="417.50" y2="504.70" stroke="#000" stroke-width="1.0"/>
<line x1="411.30" y1="494.70" x2="423.70" y2="494.70" stroke="#000" stroke-width="1.0"/>
<line x1="411.30" y1="504.70" x2="423.70" y2="504.70" stroke="#000" stroke-width="1.0"/>
<line x1="417.50" y1="543.00" x2="417.50" y2="546.40" stroke="#000" stroke-width="1.0"/>
<text x="417.50" y="558.80" font-size="11.4" text-anchor="middle" font-weight="normal" >Cast.</text>
<text x="417.50" y="601.80" font-size="11.4" text-anchor="middle" font-weight="normal" >(23)</text>
<rect x="441.30" y="503.90" width="24.20" height="39.10" fill="#727272" stroke="#000" stroke-width="1"/>
<line x1="453.40" y1="500.70" x2="453.40" y2="506.70" stroke="#000" stroke-width="1.0"/>
<line x1="447.20" y1="500.70" x2="459.60" y2="500.70" stroke="#000" stroke-width="1.0"/>
<line x1="447.20" y1="506.70" x2="459.60" y2="506.70" stroke="#000" stroke-width="1.0"/>
<line x1="453.40" y1="543.00" x2="453.40" y2="546.40" stroke="#000" stroke-width="1.0"/>
<text x="453.40" y="558.80" font-size="11.4" text-anchor="middle" font-weight="normal" >Cast.+</text>
<text x="453.40" y="572.15" font-size="11.4" text-anchor="middle" font-weight="normal" >10 pg</text>
<text x="453.40" y="585.50" font-size="11.4" text-anchor="middle" font-weight="normal" >Z5</text>
<text x="454.00" y="601.80" font-size="11.4" text-anchor="middle" font-weight="normal" >(23)</text>
<line x1="400.80" y1="426.30" x2="400.80" y2="543.50" stroke="#000" stroke-width="1.1"/>
<line x1="397.40" y1="543.00" x2="471.90" y2="543.00" stroke="#000" stroke-width="1.0"/>
<rect x="504.00" y="426.00" width="71.80" height="117.20" fill="#c9eadb"/>
<rect x="504.00" y="452.00" width="71.80" height="3.90" fill="#fff"/>
<line x1="500.60" y1="543.20" x2="504.00" y2="543.20" stroke="#000" stroke-width="1.0"/>
<text x="497.50" y="547.00" font-size="11.4" text-anchor="end" font-weight="normal" >0</text>
<line x1="500.60" y1="516.50" x2="504.00" y2="516.50" stroke="#000" stroke-width="1.0"/>
<text x="497.50" y="520.30" font-size="11.4" text-anchor="end" font-weight="normal" >20</text>
<line x1="500.60" y1="489.80" x2="504.00" y2="489.80" stroke="#000" stroke-width="1.0"/>
<text x="497.50" y="493.60" font-size="11.4" text-anchor="end" font-weight="normal" >40</text>
<line x1="500.60" y1="462.60" x2="504.00" y2="462.60" stroke="#000" stroke-width="1.0"/>
<text x="497.50" y="466.40" font-size="11.4" text-anchor="end" font-weight="normal" >60</text>
<line x1="500.60" y1="435.60" x2="504.00" y2="435.60" stroke="#000" stroke-width="1.0"/>
<text x="497.50" y="439.40" font-size="11.4" text-anchor="end" font-weight="normal" >90</text>
<rect x="509.30" y="502.80" width="24.40" height="40.40" fill="#e8e8e8" stroke="#000" stroke-width="1"/>
<line x1="521.50" y1="495.50" x2="521.50" y2="509.60" stroke="#000" stroke-width="1.0"/>
<line x1="515.30" y1="495.50" x2="527.70" y2="495.50" stroke="#000" stroke-width="1.0"/>
<line x1="515.30" y1="509.60" x2="527.70" y2="509.60" stroke="#000" stroke-width="1.0"/>
<line x1="521.50" y1="543.20" x2="521.50" y2="546.60" stroke="#000" stroke-width="1.0"/>
<text x="521.50" y="559.00" font-size="11.4" text-anchor="middle" font-weight="normal" >Cast.</text>
<text x="522.10" y="601.80" font-size="11.4" text-anchor="middle" font-weight="normal" >(16)</text>
<rect x="545.00" y="510.80" width="24.30" height="32.40" fill="#727272" stroke="#000" stroke-width="1"/>
<line x1="557.15" y1="505.50" x2="557.15" y2="515.60" stroke="#000" stroke-width="1.0"/>
<line x1="550.95" y1="505.50" x2="563.35" y2="505.50" stroke="#000" stroke-width="1.0"/>
<line x1="550.95" y1="515.60" x2="563.35" y2="515.60" stroke="#000" stroke-width="1.0"/>
<line x1="557.15" y1="543.20" x2="557.15" y2="546.60" stroke="#000" stroke-width="1.0"/>
<text x="558.05" y="559.00" font-size="11.4" text-anchor="middle" font-weight="normal" >Cast.+</text>
<text x="558.05" y="572.35" font-size="11.4" text-anchor="middle" font-weight="normal" >1 ng</text>
<text x="558.05" y="585.70" font-size="11.4" text-anchor="middle" font-weight="normal" >Z5</text>
<text x="559.45" y="601.80" font-size="11.4" text-anchor="middle" font-weight="normal" >(16)</text>
<line x1="504.00" y1="426.00" x2="504.00" y2="452.45" stroke="#000" stroke-width="1.1"/>
<line x1="504.00" y1="455.25" x2="504.00" y2="543.70" stroke="#000" stroke-width="1.1"/>
<line x1="500.00" y1="454.70" x2="508.10" y2="450.20" stroke="#111" stroke-width="0.95"/>
<line x1="500.00" y1="457.50" x2="508.10" y2="453.00" stroke="#111" stroke-width="0.95"/>
<line x1="500.60" y1="543.20" x2="575.80" y2="543.20" stroke="#000" stroke-width="1.0"/>
<rect x="613.60" y="426.30" width="71.90" height="116.30" fill="#c9eadb"/>
<line x1="610.20" y1="542.60" x2="613.60" y2="542.60" stroke="#000" stroke-width="1.0"/>
<text x="607.10" y="546.40" font-size="11.4" text-anchor="end" font-weight="normal" >0</text>
<line x1="610.20" y1="515.62" x2="613.60" y2="515.62" stroke="#000" stroke-width="1.0"/>
<text x="607.10" y="519.42" font-size="11.4" text-anchor="end" font-weight="normal" >20</text>
<line x1="610.20" y1="488.65" x2="613.60" y2="488.65" stroke="#000" stroke-width="1.0"/>
<text x="607.10" y="492.45" font-size="11.4" text-anchor="end" font-weight="normal" >40</text>
<line x1="610.20" y1="461.68" x2="613.60" y2="461.68" stroke="#000" stroke-width="1.0"/>
<text x="607.10" y="465.48" font-size="11.4" text-anchor="end" font-weight="normal" >60</text>
<line x1="610.20" y1="434.70" x2="613.60" y2="434.70" stroke="#000" stroke-width="1.0"/>
<text x="607.10" y="438.50" font-size="11.4" text-anchor="end" font-weight="normal" >80</text>
<rect x="618.30" y="508.70" width="23.70" height="33.90" fill="#e8e8e8" stroke="#000" stroke-width="1"/>
<line x1="630.15" y1="503.00" x2="630.15" y2="513.30" stroke="#000" stroke-width="1.0"/>
<line x1="623.95" y1="503.00" x2="636.35" y2="503.00" stroke="#000" stroke-width="1.0"/>
<line x1="623.95" y1="513.30" x2="636.35" y2="513.30" stroke="#000" stroke-width="1.0"/>
<line x1="630.15" y1="542.60" x2="630.15" y2="546.00" stroke="#000" stroke-width="1.0"/>
<text x="630.15" y="558.40" font-size="11.4" text-anchor="middle" font-weight="normal" >Cast.</text>
<text x="627.95" y="601.80" font-size="11.4" text-anchor="middle" font-weight="normal" >(19)</text>
<rect x="654.20" y="502.90" width="24.30" height="39.70" fill="#727272" stroke="#000" stroke-width="1"/>
<line x1="666.35" y1="497.80" x2="666.35" y2="507.20" stroke="#000" stroke-width="1.0"/>
<line x1="660.15" y1="497.80" x2="672.55" y2="497.80" stroke="#000" stroke-width="1.0"/>
<line x1="660.15" y1="507.20" x2="672.55" y2="507.20" stroke="#000" stroke-width="1.0"/>
<line x1="666.35" y1="542.60" x2="666.35" y2="546.00" stroke="#000" stroke-width="1.0"/>
<text x="667.35" y="558.40" font-size="11.4" text-anchor="middle" font-weight="normal" >Cast.+</text>
<text x="667.35" y="571.75" font-size="11.4" text-anchor="middle" font-weight="normal" >3 ng</text>
<text x="667.35" y="585.10" font-size="11.4" text-anchor="middle" font-weight="normal" >Z5</text>
<text x="666.75" y="601.80" font-size="11.4" text-anchor="middle" font-weight="normal" >(19)</text>
<line x1="613.60" y1="426.30" x2="613.60" y2="543.10" stroke="#000" stroke-width="1.1"/>
<line x1="610.20" y1="542.60" x2="685.50" y2="542.60" stroke="#000" stroke-width="1.0"/>
<text x="-0.50" y="10.50" font-size="14" text-anchor="start" font-weight="bold" >a</text>
<text x="561.00" y="10.20" font-size="14" text-anchor="start" font-weight="bold" >f</text>
<text x="0.30" y="211.90" font-size="14" text-anchor="start" font-weight="bold" >b</text>
<text x="349.00" y="211.50" font-size="14" text-anchor="start" font-weight="bold" >c</text>
<text x="0.00" y="414.00" font-size="14" text-anchor="start" font-weight="bold" >d</text>
<text x="349.00" y="413.50" font-size="14" text-anchor="start" font-weight="bold" >e</text>
<text x="435.70" y="216.70" font-size="11.4" text-anchor="middle" font-weight="normal" >Olfr288 KO</text>
<text x="648.30" y="19.30" font-size="11.4" text-anchor="middle" font-weight="normal" >Olfr288 KO</text>
<text x="434.70" y="419.00" font-size="11.4" text-anchor="middle" font-weight="normal" >Olfr288 KO</text>
<g transform="translate(10.40,88.70) rotate(-90)">
<text x="0.00" y="0.00" font-size="11.4" text-anchor="middle" font-weight="normal" >Investigation time</text>
<text x="0.00" y="13.90" font-size="11.4" text-anchor="middle" font-weight="normal" >(sec/5 min)</text>
</g>
<g transform="translate(10.80,288.90) rotate(-90)">
<text x="0.00" y="0.00" font-size="11.4" text-anchor="middle" font-weight="normal" >Investigation time</text>
<text x="0.00" y="13.90" font-size="11.4" text-anchor="middle" font-weight="normal" >(sec/5 min)</text>
</g>
<g transform="translate(10.10,483.50) rotate(-90)">
<text x="0.00" y="0.00" font-size="11.4" text-anchor="middle" font-weight="normal" >Investigation time</text>
<text x="0.00" y="13.90" font-size="11.4" text-anchor="middle" font-weight="normal" >(sec/5 min)</text>
</g>
<g transform="translate(358.90,283.00) rotate(-90)">
<text x="0.00" y="0.00" font-size="11.4" text-anchor="middle" font-weight="normal" >Investigation time</text>
<text x="0.00" y="13.90" font-size="11.4" text-anchor="middle" font-weight="normal" >(sec/5 min)</text>
</g>
<g transform="translate(359.30,485.80) rotate(-90)">
<text x="0.00" y="0.00" font-size="11.4" text-anchor="middle" font-weight="normal" >Investigation time</text>
<text x="0.00" y="13.90" font-size="11.4" text-anchor="middle" font-weight="normal" >(sec/5 min)</text>
</g>
<g transform="translate(572.00,92.40) rotate(-90)">
<text x="0.00" y="0.00" font-size="11.4" text-anchor="middle" font-weight="normal" >Investigation time</text>
<text x="0.00" y="13.90" font-size="11.4" text-anchor="middle" font-weight="normal" >(sec/5 min)</text>
</g>
<circle cx="68.32" cy="94.07" r="1.2" fill="#000"/>
<circle cx="71.66" cy="101.30" r="1.2" fill="#000"/>
<circle cx="63.46" cy="103.53" r="1.2" fill="#000"/>
<circle cx="64.85" cy="104.50" r="1.2" fill="#000"/>
<circle cx="68.32" cy="104.23" r="1.2" fill="#000"/>
<circle cx="68.32" cy="107.70" r="1.2" fill="#000"/>
<circle cx="71.66" cy="106.87" r="1.2" fill="#000"/>
<circle cx="69.02" cy="111.74" r="1.2" fill="#000"/>
<circle cx="65.54" cy="114.93" r="1.2" fill="#000"/>
<circle cx="67.91" cy="114.66" r="1.2" fill="#000"/>
<circle cx="64.43" cy="118.41" r="1.2" fill="#000"/>
<circle cx="66.52" cy="117.30" r="1.2" fill="#000"/>
<circle cx="68.60" cy="117.72" r="1.2" fill="#000"/>
<circle cx="71.38" cy="119.11" r="1.2" fill="#000"/>
<circle cx="63.46" cy="124.39" r="1.2" fill="#000"/>
<circle cx="66.52" cy="125.36" r="1.2" fill="#000"/>
<circle cx="69.30" cy="123.28" r="1.2" fill="#000"/>
<circle cx="73.05" cy="125.09" r="1.2" fill="#000"/>
<circle cx="65.13" cy="128.56" r="1.2" fill="#000"/>
<circle cx="70.41" cy="127.73" r="1.2" fill="#000"/>
<circle cx="71.66" cy="129.81" r="1.2" fill="#000"/>
<circle cx="68.32" cy="131.76" r="1.2" fill="#000"/>
<circle cx="104.34" cy="77.66" r="1.2" fill="#000"/>
<circle cx="106.01" cy="98.94" r="1.2" fill="#000"/>
<circle cx="102.68" cy="101.72" r="1.2" fill="#000"/>
<circle cx="99.20" cy="105.62" r="1.2" fill="#000"/>
<circle cx="100.59" cy="106.59" r="1.2" fill="#000"/>
<circle cx="104.07" cy="105.89" r="1.2" fill="#000"/>
<circle cx="107.54" cy="105.62" r="1.2" fill="#000"/>
<circle cx="104.07" cy="109.65" r="1.2" fill="#000"/>
<circle cx="107.54" cy="109.65" r="1.2" fill="#000"/>
<circle cx="99.20" cy="119.52" r="1.2" fill="#000"/>
<circle cx="101.98" cy="119.11" r="1.2" fill="#000"/>
<circle cx="105.74" cy="119.52" r="1.2" fill="#000"/>
<circle cx="109.35" cy="119.80" r="1.2" fill="#000"/>
<circle cx="102.40" cy="122.58" r="1.2" fill="#000"/>
<circle cx="105.74" cy="122.58" r="1.2" fill="#000"/>
<circle cx="104.34" cy="128.15" r="1.2" fill="#000"/>
<circle cx="99.20" cy="130.23" r="1.2" fill="#000"/>
<circle cx="102.68" cy="132.32" r="1.2" fill="#000"/>
<circle cx="106.01" cy="132.32" r="1.2" fill="#000"/>
<circle cx="109.21" cy="132.32" r="1.2" fill="#000"/>
<circle cx="106.01" cy="136.07" r="1.2" fill="#000"/>
<circle cx="102.68" cy="138.16" r="1.2" fill="#000"/>
<circle cx="168.74" cy="67.23" r="1.2" fill="#000"/>
<circle cx="165.54" cy="109.79" r="1.2" fill="#000"/>
<circle cx="173.89" cy="110.07" r="1.2" fill="#000"/>
<circle cx="169.02" cy="112.15" r="1.2" fill="#000"/>
<circle cx="172.08" cy="112.85" r="1.2" fill="#000"/>
<circle cx="165.54" cy="115.35" r="1.2" fill="#000"/>
<circle cx="169.02" cy="115.91" r="1.2" fill="#000"/>
<circle cx="162.62" cy="123.97" r="1.2" fill="#000"/>
<circle cx="165.13" cy="124.25" r="1.2" fill="#000"/>
<circle cx="167.91" cy="124.39" r="1.2" fill="#000"/>
<circle cx="170.41" cy="124.39" r="1.2" fill="#000"/>
<circle cx="173.19" cy="124.39" r="1.2" fill="#000"/>
<circle cx="175.56" cy="124.25" r="1.2" fill="#000"/>
<circle cx="168.60" cy="126.48" r="1.2" fill="#000"/>
<circle cx="163.74" cy="130.23" r="1.2" fill="#000"/>
<circle cx="173.75" cy="130.23" r="1.2" fill="#000"/>
<circle cx="167.21" cy="132.74" r="1.2" fill="#000"/>
<circle cx="170.41" cy="132.74" r="1.2" fill="#000"/>
<circle cx="163.74" cy="136.21" r="1.2" fill="#000"/>
<circle cx="167.21" cy="136.49" r="1.2" fill="#000"/>
<circle cx="170.41" cy="136.49" r="1.2" fill="#000"/>
<circle cx="173.75" cy="135.38" r="1.2" fill="#000"/>
<circle cx="167.91" cy="121.19" r="1.2" fill="#000"/>
<circle cx="204.62" cy="84.06" r="1.2" fill="#000"/>
<circle cx="204.62" cy="89.48" r="1.2" fill="#000"/>
<circle cx="206.15" cy="103.11" r="1.2" fill="#000"/>
<circle cx="202.95" cy="105.20" r="1.2" fill="#000"/>
<circle cx="201.28" cy="109.37" r="1.2" fill="#000"/>
<circle cx="207.96" cy="108.68" r="1.2" fill="#000"/>
<circle cx="204.62" cy="111.18" r="1.2" fill="#000"/>
<circle cx="206.15" cy="113.96" r="1.2" fill="#000"/>
<circle cx="202.95" cy="116.32" r="1.2" fill="#000"/>
<circle cx="204.62" cy="118.41" r="1.2" fill="#000"/>
<circle cx="199.89" cy="124.67" r="1.2" fill="#000"/>
<circle cx="202.95" cy="126.48" r="1.2" fill="#000"/>
<circle cx="206.15" cy="125.36" r="1.2" fill="#000"/>
<circle cx="209.63" cy="123.28" r="1.2" fill="#000"/>
<circle cx="199.89" cy="128.84" r="1.2" fill="#000"/>
<circle cx="211.02" cy="129.26" r="1.2" fill="#000"/>
<circle cx="202.95" cy="132.04" r="1.2" fill="#000"/>
<circle cx="207.54" cy="132.04" r="1.2" fill="#000"/>
<circle cx="206.15" cy="133.99" r="1.2" fill="#000"/>
<circle cx="202.95" cy="135.79" r="1.2" fill="#000"/>
<circle cx="201.28" cy="120.08" r="1.2" fill="#000"/>
<circle cx="208.24" cy="120.08" r="1.2" fill="#000"/>
<circle cx="272.02" cy="76.69" r="1.2" fill="#000"/>
<circle cx="272.02" cy="82.95" r="1.2" fill="#000"/>
<circle cx="272.02" cy="90.87" r="1.2" fill="#000"/>
<circle cx="273.69" cy="95.74" r="1.2" fill="#000"/>
<circle cx="270.49" cy="97.83" r="1.2" fill="#000"/>
<circle cx="266.74" cy="108.40" r="1.2" fill="#000"/>
<circle cx="268.82" cy="108.95" r="1.2" fill="#000"/>
<circle cx="271.60" cy="109.09" r="1.2" fill="#000"/>
<circle cx="274.38" cy="108.95" r="1.2" fill="#000"/>
<circle cx="277.17" cy="108.68" r="1.2" fill="#000"/>
<circle cx="270.91" cy="110.76" r="1.2" fill="#000"/>
<circle cx="272.02" cy="112.85" r="1.2" fill="#000"/>
<circle cx="266.74" cy="115.35" r="1.2" fill="#000"/>
<circle cx="269.52" cy="115.63" r="1.2" fill="#000"/>
<circle cx="272.30" cy="115.21" r="1.2" fill="#000"/>
<circle cx="275.77" cy="115.63" r="1.2" fill="#000"/>
<circle cx="265.62" cy="119.11" r="1.2" fill="#000"/>
<circle cx="273.69" cy="120.08" r="1.2" fill="#000"/>
<circle cx="277.17" cy="119.11" r="1.2" fill="#000"/>
<circle cx="267.43" cy="122.58" r="1.2" fill="#000"/>
<circle cx="269.52" cy="123.28" r="1.2" fill="#000"/>
<circle cx="278.56" cy="123.00" r="1.2" fill="#000"/>
<circle cx="270.49" cy="125.36" r="1.2" fill="#000"/>
<circle cx="275.08" cy="125.64" r="1.2" fill="#000"/>
<circle cx="273.69" cy="128.84" r="1.2" fill="#000"/>
<circle cx="270.49" cy="130.51" r="1.2" fill="#000"/>
<circle cx="308.04" cy="75.99" r="1.2" fill="#000"/>
<circle cx="306.37" cy="90.87" r="1.2" fill="#000"/>
<circle cx="311.24" cy="93.79" r="1.2" fill="#000"/>
<circle cx="304.98" cy="97.55" r="1.2" fill="#000"/>
<circle cx="309.85" cy="101.03" r="1.2" fill="#000"/>
<circle cx="306.37" cy="100.33" r="1.2" fill="#000"/>
<circle cx="307.07" cy="102.42" r="1.2" fill="#000"/>
<circle cx="304.98" cy="105.20" r="1.2" fill="#000"/>
<circle cx="306.37" cy="107.98" r="1.2" fill="#000"/>
<circle cx="309.85" cy="109.79" r="1.2" fill="#000"/>
<circle cx="304.98" cy="112.15" r="1.2" fill="#000"/>
<circle cx="308.18" cy="113.54" r="1.2" fill="#000"/>
<circle cx="311.24" cy="113.26" r="1.2" fill="#000"/>
<circle cx="306.37" cy="118.41" r="1.2" fill="#000"/>
<circle cx="309.57" cy="120.50" r="1.2" fill="#000"/>
<circle cx="308.04" cy="123.97" r="1.2" fill="#000"/>
<circle cx="306.37" cy="126.34" r="1.2" fill="#000"/>
<circle cx="311.24" cy="127.17" r="1.2" fill="#000"/>
<circle cx="309.57" cy="130.51" r="1.2" fill="#000"/>
<circle cx="306.37" cy="132.74" r="1.2" fill="#000"/>
<circle cx="308.10" cy="28.00" r="1.2" fill="#000"/>
<circle cx="308.10" cy="36.70" r="1.2" fill="#000"/>
<circle cx="308.10" cy="56.50" r="1.2" fill="#000"/>
<circle cx="373.19" cy="74.60" r="1.2" fill="#000"/>
<circle cx="369.85" cy="83.64" r="1.2" fill="#000"/>
<circle cx="371.79" cy="85.45" r="1.2" fill="#000"/>
<circle cx="374.99" cy="82.53" r="1.2" fill="#000"/>
<circle cx="374.99" cy="86.70" r="1.2" fill="#000"/>
<circle cx="371.79" cy="90.87" r="1.2" fill="#000"/>
<circle cx="374.99" cy="90.18" r="1.2" fill="#000"/>
<circle cx="373.19" cy="97.27" r="1.2" fill="#000"/>
<circle cx="369.85" cy="99.91" r="1.2" fill="#000"/>
<circle cx="376.38" cy="99.91" r="1.2" fill="#000"/>
<circle cx="373.19" cy="101.72" r="1.2" fill="#000"/>
<circle cx="363.87" cy="112.85" r="1.2" fill="#000"/>
<circle cx="366.65" cy="113.96" r="1.2" fill="#000"/>
<circle cx="369.85" cy="114.66" r="1.2" fill="#000"/>
<circle cx="372.91" cy="115.63" r="1.2" fill="#000"/>
<circle cx="375.41" cy="113.54" r="1.2" fill="#000"/>
<circle cx="376.80" cy="114.66" r="1.2" fill="#000"/>
<circle cx="379.86" cy="116.32" r="1.2" fill="#000"/>
<circle cx="381.25" cy="113.96" r="1.2" fill="#000"/>
<circle cx="366.65" cy="118.13" r="1.2" fill="#000"/>
<circle cx="370.13" cy="119.52" r="1.2" fill="#000"/>
<circle cx="373.32" cy="120.08" r="1.2" fill="#000"/>
<circle cx="376.38" cy="118.41" r="1.2" fill="#000"/>
<circle cx="379.58" cy="117.30" r="1.2" fill="#000"/>
<circle cx="366.65" cy="123.28" r="1.2" fill="#000"/>
<circle cx="369.85" cy="124.39" r="1.2" fill="#000"/>
<circle cx="373.19" cy="125.78" r="1.2" fill="#000"/>
<circle cx="376.38" cy="125.36" r="1.2" fill="#000"/>
<circle cx="379.86" cy="123.97" r="1.2" fill="#000"/>
<circle cx="409.07" cy="74.60" r="1.2" fill="#000"/>
<circle cx="409.07" cy="78.77" r="1.2" fill="#000"/>
<circle cx="406.01" cy="87.12" r="1.2" fill="#000"/>
<circle cx="409.07" cy="87.12" r="1.2" fill="#000"/>
<circle cx="412.54" cy="86.70" r="1.2" fill="#000"/>
<circle cx="409.07" cy="90.87" r="1.2" fill="#000"/>
<circle cx="410.74" cy="95.46" r="1.2" fill="#000"/>
<circle cx="407.68" cy="96.16" r="1.2" fill="#000"/>
<circle cx="412.54" cy="96.16" r="1.2" fill="#000"/>
<circle cx="408.37" cy="100.33" r="1.2" fill="#000"/>
<circle cx="409.07" cy="105.89" r="1.2" fill="#000"/>
<circle cx="413.93" cy="105.89" r="1.2" fill="#000"/>
<circle cx="403.78" cy="108.68" r="1.2" fill="#000"/>
<circle cx="406.98" cy="108.95" r="1.2" fill="#000"/>
<circle cx="411.15" cy="108.95" r="1.2" fill="#000"/>
<circle cx="402.11" cy="111.18" r="1.2" fill="#000"/>
<circle cx="406.28" cy="112.85" r="1.2" fill="#000"/>
<circle cx="409.07" cy="113.26" r="1.2" fill="#000"/>
<circle cx="412.54" cy="111.18" r="1.2" fill="#000"/>
<circle cx="415.74" cy="110.76" r="1.2" fill="#000"/>
<circle cx="407.40" cy="117.02" r="1.2" fill="#000"/>
<circle cx="410.74" cy="116.74" r="1.2" fill="#000"/>
<circle cx="407.68" cy="121.19" r="1.2" fill="#000"/>
<circle cx="410.74" cy="121.89" r="1.2" fill="#000"/>
<circle cx="407.40" cy="127.73" r="1.2" fill="#000"/>
<circle cx="410.74" cy="127.03" r="1.2" fill="#000"/>
<circle cx="421.86" cy="117.30" r="1.2" fill="#000"/>
<circle cx="409.40" cy="33.60" r="1.2" fill="#000"/>
<circle cx="409.40" cy="46.00" r="1.2" fill="#000"/>
<circle cx="409.40" cy="53.20" r="1.2" fill="#000"/>
<circle cx="477.02" cy="85.73" r="1.2" fill="#000"/>
<circle cx="479.80" cy="85.31" r="1.2" fill="#000"/>
<circle cx="478.41" cy="89.62" r="1.2" fill="#000"/>
<circle cx="477.02" cy="93.79" r="1.2" fill="#000"/>
<circle cx="480.08" cy="92.68" r="1.2" fill="#000"/>
<circle cx="477.02" cy="97.55" r="1.2" fill="#000"/>
<circle cx="479.80" cy="98.66" r="1.2" fill="#000"/>
<circle cx="480.08" cy="106.59" r="1.2" fill="#000"/>
<circle cx="477.02" cy="107.98" r="1.2" fill="#000"/>
<circle cx="474.24" cy="109.65" r="1.2" fill="#000"/>
<circle cx="478.41" cy="109.65" r="1.2" fill="#000"/>
<circle cx="481.89" cy="109.65" r="1.2" fill="#000"/>
<circle cx="478.69" cy="112.15" r="1.2" fill="#000"/>
<circle cx="476.60" cy="114.24" r="1.2" fill="#000"/>
<circle cx="480.77" cy="114.52" r="1.2" fill="#000"/>
<circle cx="477.02" cy="120.91" r="1.2" fill="#000"/>
<circle cx="480.08" cy="120.91" r="1.2" fill="#000"/>
<circle cx="475.21" cy="129.81" r="1.2" fill="#000"/>
<circle cx="481.47" cy="129.81" r="1.2" fill="#000"/>
<circle cx="478.41" cy="132.04" r="1.2" fill="#000"/>
<circle cx="478.41" cy="135.79" r="1.2" fill="#000"/>
<circle cx="475.21" cy="138.16" r="1.2" fill="#000"/>
<circle cx="481.47" cy="138.58" r="1.2" fill="#000"/>
<circle cx="478.41" cy="140.66" r="1.2" fill="#000"/>
<circle cx="514.15" cy="81.14" r="1.2" fill="#000"/>
<circle cx="514.15" cy="90.18" r="1.2" fill="#000"/>
<circle cx="512.34" cy="96.16" r="1.2" fill="#000"/>
<circle cx="515.54" cy="96.16" r="1.2" fill="#000"/>
<circle cx="514.15" cy="103.81" r="1.2" fill="#000"/>
<circle cx="514.15" cy="110.07" r="1.2" fill="#000"/>
<circle cx="509.28" cy="113.13" r="1.2" fill="#000"/>
<circle cx="512.07" cy="114.24" r="1.2" fill="#000"/>
<circle cx="515.54" cy="114.24" r="1.2" fill="#000"/>
<circle cx="519.02" cy="114.52" r="1.2" fill="#000"/>
<circle cx="514.15" cy="117.02" r="1.2" fill="#000"/>
<circle cx="509.28" cy="124.67" r="1.2" fill="#000"/>
<circle cx="514.15" cy="125.09" r="1.2" fill="#000"/>
<circle cx="519.02" cy="124.67" r="1.2" fill="#000"/>
<circle cx="510.68" cy="127.87" r="1.2" fill="#000"/>
<circle cx="517.63" cy="127.87" r="1.2" fill="#000"/>
<circle cx="514.15" cy="129.12" r="1.2" fill="#000"/>
<circle cx="507.89" cy="132.32" r="1.2" fill="#000"/>
<circle cx="510.95" cy="132.32" r="1.2" fill="#000"/>
<circle cx="514.15" cy="133.01" r="1.2" fill="#000"/>
<circle cx="517.63" cy="132.32" r="1.2" fill="#000"/>
<circle cx="520.41" cy="131.62" r="1.2" fill="#000"/>
<circle cx="514.15" cy="138.99" r="1.2" fill="#000"/>
<circle cx="627.91" cy="84.75" r="1.2" fill="#000"/>
<circle cx="630.97" cy="85.31" r="1.2" fill="#000"/>
<circle cx="627.91" cy="90.60" r="1.2" fill="#000"/>
<circle cx="630.97" cy="89.48" r="1.2" fill="#000"/>
<circle cx="627.91" cy="96.44" r="1.2" fill="#000"/>
<circle cx="630.97" cy="96.85" r="1.2" fill="#000"/>
<circle cx="627.91" cy="101.03" r="1.2" fill="#000"/>
<circle cx="630.97" cy="100.33" r="1.2" fill="#000"/>
<circle cx="626.24" cy="113.13" r="1.2" fill="#000"/>
<circle cx="629.30" cy="114.24" r="1.2" fill="#000"/>
<circle cx="632.77" cy="112.85" r="1.2" fill="#000"/>
<circle cx="625.82" cy="119.52" r="1.2" fill="#000"/>
<circle cx="629.30" cy="121.19" r="1.2" fill="#000"/>
<circle cx="632.77" cy="120.08" r="1.2" fill="#000"/>
<circle cx="629.58" cy="125.64" r="1.2" fill="#000"/>
<circle cx="627.63" cy="132.60" r="1.2" fill="#000"/>
<circle cx="630.97" cy="132.60" r="1.2" fill="#000"/>
<circle cx="627.91" cy="107.98" r="1.2" fill="#000"/>
<circle cx="631.38" cy="108.68" r="1.2" fill="#000"/>
<circle cx="663.79" cy="70.01" r="1.2" fill="#000"/>
<circle cx="667.13" cy="68.34" r="1.2" fill="#000"/>
<circle cx="661.98" cy="78.08" r="1.2" fill="#000"/>
<circle cx="665.74" cy="78.08" r="1.2" fill="#000"/>
<circle cx="668.93" cy="77.66" r="1.2" fill="#000"/>
<circle cx="665.46" cy="81.83" r="1.2" fill="#000"/>
<circle cx="663.79" cy="90.87" r="1.2" fill="#000"/>
<circle cx="667.13" cy="92.26" r="1.2" fill="#000"/>
<circle cx="661.28" cy="96.44" r="1.2" fill="#000"/>
<circle cx="665.74" cy="96.85" r="1.2" fill="#000"/>
<circle cx="670.32" cy="96.44" r="1.2" fill="#000"/>
<circle cx="667.13" cy="97.55" r="1.2" fill="#000"/>
<circle cx="663.79" cy="119.11" r="1.2" fill="#000"/>
<circle cx="667.13" cy="117.02" r="1.2" fill="#000"/>
<circle cx="665.74" cy="124.25" r="1.2" fill="#000"/>
<circle cx="661.98" cy="128.42" r="1.2" fill="#000"/>
<circle cx="665.74" cy="130.23" r="1.2" fill="#000"/>
<circle cx="668.93" cy="129.54" r="1.2" fill="#000"/>
<circle cx="66.79" cy="296.85" r="1.2" fill="#000"/>
<circle cx="70.27" cy="296.85" r="1.2" fill="#000"/>
<circle cx="68.46" cy="302.70" r="1.2" fill="#000"/>
<circle cx="66.79" cy="306.59" r="1.2" fill="#000"/>
<circle cx="70.27" cy="306.59" r="1.2" fill="#000"/>
<circle cx="68.46" cy="315.21" r="1.2" fill="#000"/>
<circle cx="58.17" cy="321.89" r="1.2" fill="#000"/>
<circle cx="60.95" cy="322.86" r="1.2" fill="#000"/>
<circle cx="64.43" cy="323.28" r="1.2" fill="#000"/>
<circle cx="67.91" cy="323.28" r="1.2" fill="#000"/>
<circle cx="71.38" cy="323.28" r="1.2" fill="#000"/>
<circle cx="74.86" cy="323.00" r="1.2" fill="#000"/>
<circle cx="78.34" cy="321.89" r="1.2" fill="#000"/>
<circle cx="57.48" cy="326.48" r="1.2" fill="#000"/>
<circle cx="60.68" cy="327.45" r="1.2" fill="#000"/>
<circle cx="64.01" cy="328.15" r="1.2" fill="#000"/>
<circle cx="67.21" cy="328.42" r="1.2" fill="#000"/>
<circle cx="70.41" cy="328.84" r="1.2" fill="#000"/>
<circle cx="73.47" cy="328.15" r="1.2" fill="#000"/>
<circle cx="76.25" cy="327.73" r="1.2" fill="#000"/>
<circle cx="79.73" cy="326.48" r="1.2" fill="#000"/>
<circle cx="66.79" cy="334.13" r="1.2" fill="#000"/>
<circle cx="70.27" cy="334.13" r="1.2" fill="#000"/>
<circle cx="104.07" cy="260.70" r="1.2" fill="#000"/>
<circle cx="104.07" cy="277.80" r="1.2" fill="#000"/>
<circle cx="104.07" cy="285.45" r="1.2" fill="#000"/>
<circle cx="101.01" cy="296.16" r="1.2" fill="#000"/>
<circle cx="104.07" cy="297.27" r="1.2" fill="#000"/>
<circle cx="107.54" cy="295.88" r="1.2" fill="#000"/>
<circle cx="96.42" cy="313.96" r="1.2" fill="#000"/>
<circle cx="99.89" cy="314.52" r="1.2" fill="#000"/>
<circle cx="103.37" cy="312.85" r="1.2" fill="#000"/>
<circle cx="106.85" cy="314.66" r="1.2" fill="#000"/>
<circle cx="109.63" cy="315.91" r="1.2" fill="#000"/>
<circle cx="112.41" cy="314.66" r="1.2" fill="#000"/>
<circle cx="101.01" cy="316.32" r="1.2" fill="#000"/>
<circle cx="104.07" cy="316.74" r="1.2" fill="#000"/>
<circle cx="99.89" cy="318.83" r="1.2" fill="#000"/>
<circle cx="102.68" cy="320.91" r="1.2" fill="#000"/>
<circle cx="106.15" cy="318.41" r="1.2" fill="#000"/>
<circle cx="108.93" cy="320.08" r="1.2" fill="#000"/>
<circle cx="99.20" cy="322.86" r="1.2" fill="#000"/>
<circle cx="102.68" cy="323.97" r="1.2" fill="#000"/>
<circle cx="106.15" cy="324.67" r="1.2" fill="#000"/>
<circle cx="109.63" cy="322.86" r="1.2" fill="#000"/>
<circle cx="104.07" cy="332.60" r="1.2" fill="#000"/>
<circle cx="104.50" cy="228.30" r="1.2" fill="#000"/>
<circle cx="173.91" cy="281.83" r="1.2" fill="#000"/>
<circle cx="173.91" cy="297.27" r="1.2" fill="#000"/>
<circle cx="173.91" cy="305.20" r="1.2" fill="#000"/>
<circle cx="170.85" cy="309.37" r="1.2" fill="#000"/>
<circle cx="173.91" cy="310.76" r="1.2" fill="#000"/>
<circle cx="177.11" cy="309.65" r="1.2" fill="#000"/>
<circle cx="172.52" cy="313.54" r="1.2" fill="#000"/>
<circle cx="177.11" cy="316.32" r="1.2" fill="#000"/>
<circle cx="173.91" cy="318.41" r="1.2" fill="#000"/>
<circle cx="168.34" cy="321.19" r="1.2" fill="#000"/>
<circle cx="171.13" cy="321.89" r="1.2" fill="#000"/>
<circle cx="173.91" cy="322.30" r="1.2" fill="#000"/>
<circle cx="176.69" cy="321.89" r="1.2" fill="#000"/>
<circle cx="179.47" cy="321.19" r="1.2" fill="#000"/>
<circle cx="170.43" cy="323.97" r="1.2" fill="#000"/>
<circle cx="174.60" cy="324.67" r="1.2" fill="#000"/>
<circle cx="172.79" cy="328.42" r="1.2" fill="#000"/>
<circle cx="176.41" cy="329.54" r="1.2" fill="#000"/>
<circle cx="169.74" cy="332.04" r="1.2" fill="#000"/>
<circle cx="173.21" cy="332.60" r="1.2" fill="#000"/>
<circle cx="178.08" cy="332.60" r="1.2" fill="#000"/>
<circle cx="168.62" cy="333.43" r="1.2" fill="#000"/>
<circle cx="175.30" cy="334.40" r="1.2" fill="#000"/>
<circle cx="172.24" cy="335.79" r="1.2" fill="#000"/>
<circle cx="209.79" cy="273.63" r="1.2" fill="#000"/>
<circle cx="208.40" cy="280.17" r="1.2" fill="#000"/>
<circle cx="211.74" cy="278.77" r="1.2" fill="#000"/>
<circle cx="209.79" cy="287.81" r="1.2" fill="#000"/>
<circle cx="208.40" cy="293.38" r="1.2" fill="#000"/>
<circle cx="211.74" cy="295.05" r="1.2" fill="#000"/>
<circle cx="205.89" cy="308.95" r="1.2" fill="#000"/>
<circle cx="214.93" cy="308.95" r="1.2" fill="#000"/>
<circle cx="205.20" cy="312.57" r="1.2" fill="#000"/>
<circle cx="208.68" cy="312.85" r="1.2" fill="#000"/>
<circle cx="211.74" cy="312.85" r="1.2" fill="#000"/>
<circle cx="204.50" cy="315.63" r="1.2" fill="#000"/>
<circle cx="207.98" cy="316.32" r="1.2" fill="#000"/>
<circle cx="211.46" cy="315.63" r="1.2" fill="#000"/>
<circle cx="214.93" cy="315.91" r="1.2" fill="#000"/>
<circle cx="210.07" cy="317.30" r="1.2" fill="#000"/>
<circle cx="206.59" cy="320.08" r="1.2" fill="#000"/>
<circle cx="210.07" cy="322.58" r="1.2" fill="#000"/>
<circle cx="212.85" cy="322.30" r="1.2" fill="#000"/>
<circle cx="207.98" cy="325.09" r="1.2" fill="#000"/>
<circle cx="212.57" cy="328.42" r="1.2" fill="#000"/>
<circle cx="211.46" cy="329.54" r="1.2" fill="#000"/>
<circle cx="207.28" cy="331.62" r="1.2" fill="#000"/>
<circle cx="207.98" cy="335.10" r="1.2" fill="#000"/>
<circle cx="211.46" cy="335.10" r="1.2" fill="#000"/>
<circle cx="209.79" cy="338.99" r="1.2" fill="#000"/>
<circle cx="278.60" cy="288.51" r="1.2" fill="#000"/>
<circle cx="280.41" cy="290.87" r="1.2" fill="#000"/>
<circle cx="276.79" cy="293.79" r="1.2" fill="#000"/>
<circle cx="278.60" cy="306.59" r="1.2" fill="#000"/>
<circle cx="278.60" cy="313.13" r="1.2" fill="#000"/>
<circle cx="281.80" cy="315.63" r="1.2" fill="#000"/>
<circle cx="275.13" cy="317.02" r="1.2" fill="#000"/>
<circle cx="278.60" cy="318.41" r="1.2" fill="#000"/>
<circle cx="272.34" cy="322.86" r="1.2" fill="#000"/>
<circle cx="275.13" cy="321.89" r="1.2" fill="#000"/>
<circle cx="277.91" cy="323.28" r="1.2" fill="#000"/>
<circle cx="281.38" cy="322.30" r="1.2" fill="#000"/>
<circle cx="284.86" cy="322.58" r="1.2" fill="#000"/>
<circle cx="278.60" cy="324.67" r="1.2" fill="#000"/>
<circle cx="280.41" cy="326.75" r="1.2" fill="#000"/>
<circle cx="276.79" cy="329.12" r="1.2" fill="#000"/>
<circle cx="281.80" cy="331.21" r="1.2" fill="#000"/>
<circle cx="273.74" cy="334.40" r="1.2" fill="#000"/>
<circle cx="275.13" cy="336.21" r="1.2" fill="#000"/>
<circle cx="278.60" cy="334.40" r="1.2" fill="#000"/>
<circle cx="281.80" cy="336.49" r="1.2" fill="#000"/>
<circle cx="278.60" cy="338.58" r="1.2" fill="#000"/>
<circle cx="314.48" cy="283.92" r="1.2" fill="#000"/>
<circle cx="314.48" cy="302.70" r="1.2" fill="#000"/>
<circle cx="311.28" cy="307.98" r="1.2" fill="#000"/>
<circle cx="314.48" cy="310.07" r="1.2" fill="#000"/>
<circle cx="317.82" cy="308.95" r="1.2" fill="#000"/>
<circle cx="314.48" cy="313.96" r="1.2" fill="#000"/>
<circle cx="307.81" cy="317.02" r="1.2" fill="#000"/>
<circle cx="311.28" cy="318.13" r="1.2" fill="#000"/>
<circle cx="314.76" cy="318.41" r="1.2" fill="#000"/>
<circle cx="317.96" cy="318.41" r="1.2" fill="#000"/>
<circle cx="323.11" cy="318.69" r="1.2" fill="#000"/>
<circle cx="311.28" cy="323.28" r="1.2" fill="#000"/>
<circle cx="314.76" cy="323.97" r="1.2" fill="#000"/>
<circle cx="317.54" cy="321.89" r="1.2" fill="#000"/>
<circle cx="315.74" cy="325.64" r="1.2" fill="#000"/>
<circle cx="309.89" cy="329.81" r="1.2" fill="#000"/>
<circle cx="312.95" cy="328.42" r="1.2" fill="#000"/>
<circle cx="317.54" cy="328.84" r="1.2" fill="#000"/>
<circle cx="311.28" cy="332.60" r="1.2" fill="#000"/>
<circle cx="314.76" cy="332.04" r="1.2" fill="#000"/>
<circle cx="317.96" cy="333.71" r="1.2" fill="#000"/>
<circle cx="314.48" cy="335.79" r="1.2" fill="#000"/>
<circle cx="419.02" cy="249.01" r="1.2" fill="#000"/>
<circle cx="419.02" cy="277.11" r="1.2" fill="#000"/>
<circle cx="415.82" cy="282.95" r="1.2" fill="#000"/>
<circle cx="422.36" cy="282.53" r="1.2" fill="#000"/>
<circle cx="419.02" cy="285.73" r="1.2" fill="#000"/>
<circle cx="419.02" cy="300.05" r="1.2" fill="#000"/>
<circle cx="414.43" cy="315.35" r="1.2" fill="#000"/>
<circle cx="417.21" cy="316.32" r="1.2" fill="#000"/>
<circle cx="420.41" cy="318.41" r="1.2" fill="#000"/>
<circle cx="424.17" cy="317.02" r="1.2" fill="#000"/>
<circle cx="419.02" cy="324.67" r="1.2" fill="#000"/>
<circle cx="414.43" cy="329.95" r="1.2" fill="#000"/>
<circle cx="417.21" cy="328.15" r="1.2" fill="#000"/>
<circle cx="420.41" cy="328.15" r="1.2" fill="#000"/>
<circle cx="424.17" cy="329.95" r="1.2" fill="#000"/>
<circle cx="417.21" cy="332.32" r="1.2" fill="#000"/>
<circle cx="420.69" cy="332.04" r="1.2" fill="#000"/>
<circle cx="417.91" cy="314.93" r="1.2" fill="#000"/>
<circle cx="422.08" cy="314.93" r="1.2" fill="#000"/>
<circle cx="455.04" cy="260.42" r="1.2" fill="#000"/>
<circle cx="451.70" cy="276.69" r="1.2" fill="#000"/>
<circle cx="455.04" cy="279.47" r="1.2" fill="#000"/>
<circle cx="458.24" cy="279.19" r="1.2" fill="#000"/>
<circle cx="451.70" cy="295.88" r="1.2" fill="#000"/>
<circle cx="455.04" cy="296.85" r="1.2" fill="#000"/>
<circle cx="458.24" cy="293.79" r="1.2" fill="#000"/>
<circle cx="454.07" cy="303.81" r="1.2" fill="#000"/>
<circle cx="454.07" cy="309.37" r="1.2" fill="#000"/>
<circle cx="456.57" cy="311.74" r="1.2" fill="#000"/>
<circle cx="455.04" cy="316.74" r="1.2" fill="#000"/>
<circle cx="451.98" cy="320.91" r="1.2" fill="#000"/>
<circle cx="455.46" cy="321.19" r="1.2" fill="#000"/>
<circle cx="458.24" cy="320.91" r="1.2" fill="#000"/>
<circle cx="451.98" cy="324.67" r="1.2" fill="#000"/>
<circle cx="456.15" cy="323.97" r="1.2" fill="#000"/>
<circle cx="453.37" cy="326.48" r="1.2" fill="#000"/>
<circle cx="456.57" cy="328.15" r="1.2" fill="#000"/>
<circle cx="455.04" cy="334.82" r="1.2" fill="#000"/>
<circle cx="522.02" cy="283.92" r="1.2" fill="#000"/>
<circle cx="520.21" cy="287.81" r="1.2" fill="#000"/>
<circle cx="523.69" cy="287.81" r="1.2" fill="#000"/>
<circle cx="522.02" cy="293.66" r="1.2" fill="#000"/>
<circle cx="520.21" cy="297.55" r="1.2" fill="#000"/>
<circle cx="523.69" cy="296.85" r="1.2" fill="#000"/>
<circle cx="522.02" cy="305.62" r="1.2" fill="#000"/>
<circle cx="522.02" cy="308.68" r="1.2" fill="#000"/>
<circle cx="515.34" cy="313.96" r="1.2" fill="#000"/>
<circle cx="518.13" cy="313.96" r="1.2" fill="#000"/>
<circle cx="520.91" cy="314.24" r="1.2" fill="#000"/>
<circle cx="524.38" cy="313.54" r="1.2" fill="#000"/>
<circle cx="527.86" cy="313.54" r="1.2" fill="#000"/>
<circle cx="522.02" cy="315.35" r="1.2" fill="#000"/>
<circle cx="523.69" cy="317.30" r="1.2" fill="#000"/>
<circle cx="520.21" cy="319.11" r="1.2" fill="#000"/>
<circle cx="520.21" cy="328.42" r="1.2" fill="#000"/>
<circle cx="525.08" cy="331.62" r="1.2" fill="#000"/>
<circle cx="523.41" cy="333.43" r="1.2" fill="#000"/>
<circle cx="520.21" cy="335.79" r="1.2" fill="#000"/>
<circle cx="557.76" cy="277.80" r="1.2" fill="#000"/>
<circle cx="557.76" cy="284.75" r="1.2" fill="#000"/>
<circle cx="557.76" cy="291.29" r="1.2" fill="#000"/>
<circle cx="556.79" cy="298.94" r="1.2" fill="#000"/>
<circle cx="559.15" cy="302.42" r="1.2" fill="#000"/>
<circle cx="557.76" cy="311.46" r="1.2" fill="#000"/>
<circle cx="552.89" cy="316.32" r="1.2" fill="#000"/>
<circle cx="555.68" cy="317.02" r="1.2" fill="#000"/>
<circle cx="559.57" cy="316.74" r="1.2" fill="#000"/>
<circle cx="557.76" cy="319.80" r="1.2" fill="#000"/>
<circle cx="561.24" cy="319.80" r="1.2" fill="#000"/>
<circle cx="556.79" cy="321.89" r="1.2" fill="#000"/>
<circle cx="560.54" cy="323.70" r="1.2" fill="#000"/>
<circle cx="559.15" cy="326.06" r="1.2" fill="#000"/>
<circle cx="556.37" cy="327.87" r="1.2" fill="#000"/>
<circle cx="557.76" cy="331.21" r="1.2" fill="#000"/>
<circle cx="559.15" cy="335.38" r="1.2" fill="#000"/>
<circle cx="556.37" cy="336.91" r="1.2" fill="#000"/>
<circle cx="630.69" cy="268.07" r="1.2" fill="#000"/>
<circle cx="630.69" cy="276.97" r="1.2" fill="#000"/>
<circle cx="632.36" cy="279.89" r="1.2" fill="#000"/>
<circle cx="629.02" cy="282.95" r="1.2" fill="#000"/>
<circle cx="629.30" cy="293.10" r="1.2" fill="#000"/>
<circle cx="632.08" cy="294.77" r="1.2" fill="#000"/>
<circle cx="630.69" cy="304.23" r="1.2" fill="#000"/>
<circle cx="630.69" cy="310.07" r="1.2" fill="#000"/>
<circle cx="629.02" cy="312.15" r="1.2" fill="#000"/>
<circle cx="632.36" cy="314.52" r="1.2" fill="#000"/>
<circle cx="632.36" cy="317.72" r="1.2" fill="#000"/>
<circle cx="629.02" cy="320.91" r="1.2" fill="#000"/>
<circle cx="630.69" cy="328.56" r="1.2" fill="#000"/>
<circle cx="629.02" cy="337.19" r="1.2" fill="#000"/>
<circle cx="632.08" cy="335.79" r="1.2" fill="#000"/>
<circle cx="630.41" cy="300.33" r="1.2" fill="#000"/>
<circle cx="631.00" cy="240.60" r="1.2" fill="#000"/>
<circle cx="666.57" cy="262.50" r="1.2" fill="#000"/>
<circle cx="666.57" cy="276.97" r="1.2" fill="#000"/>
<circle cx="666.57" cy="283.64" r="1.2" fill="#000"/>
<circle cx="666.57" cy="300.33" r="1.2" fill="#000"/>
<circle cx="666.57" cy="309.37" r="1.2" fill="#000"/>
<circle cx="663.37" cy="313.13" r="1.2" fill="#000"/>
<circle cx="666.57" cy="314.93" r="1.2" fill="#000"/>
<circle cx="669.91" cy="312.85" r="1.2" fill="#000"/>
<circle cx="661.98" cy="322.86" r="1.2" fill="#000"/>
<circle cx="666.57" cy="321.47" r="1.2" fill="#000"/>
<circle cx="665.18" cy="324.67" r="1.2" fill="#000"/>
<circle cx="669.91" cy="325.64" r="1.2" fill="#000"/>
<circle cx="673.11" cy="323.97" r="1.2" fill="#000"/>
<circle cx="665.18" cy="329.54" r="1.2" fill="#000"/>
<circle cx="668.24" cy="328.84" r="1.2" fill="#000"/>
<circle cx="666.60" cy="231.70" r="1.2" fill="#000"/>
<circle cx="666.60" cy="249.70" r="1.2" fill="#000"/>
<circle cx="666.60" cy="257.70" r="1.2" fill="#000"/>
<circle cx="67.91" cy="504.23" r="1.2" fill="#000"/>
<circle cx="65.82" cy="507.28" r="1.2" fill="#000"/>
<circle cx="70.97" cy="508.95" r="1.2" fill="#000"/>
<circle cx="69.30" cy="510.34" r="1.2" fill="#000"/>
<circle cx="66.24" cy="512.85" r="1.2" fill="#000"/>
<circle cx="67.91" cy="517.02" r="1.2" fill="#000"/>
<circle cx="67.91" cy="521.19" r="1.2" fill="#000"/>
<circle cx="62.62" cy="524.25" r="1.2" fill="#000"/>
<circle cx="65.13" cy="524.67" r="1.2" fill="#000"/>
<circle cx="67.91" cy="524.25" r="1.2" fill="#000"/>
<circle cx="70.69" cy="524.67" r="1.2" fill="#000"/>
<circle cx="73.47" cy="523.70" r="1.2" fill="#000"/>
<circle cx="59.56" cy="529.26" r="1.2" fill="#000"/>
<circle cx="61.65" cy="528.84" r="1.2" fill="#000"/>
<circle cx="64.43" cy="529.54" r="1.2" fill="#000"/>
<circle cx="67.21" cy="529.54" r="1.2" fill="#000"/>
<circle cx="70.69" cy="529.54" r="1.2" fill="#000"/>
<circle cx="63.04" cy="531.62" r="1.2" fill="#000"/>
<circle cx="67.21" cy="532.60" r="1.2" fill="#000"/>
<circle cx="69.99" cy="532.60" r="1.2" fill="#000"/>
<circle cx="72.77" cy="532.32" r="1.2" fill="#000"/>
<circle cx="75.97" cy="530.93" r="1.2" fill="#000"/>
<circle cx="67.91" cy="536.49" r="1.2" fill="#000"/>
<circle cx="103.65" cy="472.24" r="1.2" fill="#000"/>
<circle cx="101.98" cy="483.92" r="1.2" fill="#000"/>
<circle cx="105.46" cy="484.34" r="1.2" fill="#000"/>
<circle cx="103.65" cy="497.83" r="1.2" fill="#000"/>
<circle cx="103.65" cy="507.28" r="1.2" fill="#000"/>
<circle cx="101.98" cy="511.18" r="1.2" fill="#000"/>
<circle cx="105.46" cy="511.18" r="1.2" fill="#000"/>
<circle cx="95.72" cy="521.19" r="1.2" fill="#000"/>
<circle cx="99.20" cy="522.58" r="1.2" fill="#000"/>
<circle cx="101.98" cy="523.28" r="1.2" fill="#000"/>
<circle cx="105.46" cy="522.86" r="1.2" fill="#000"/>
<circle cx="108.93" cy="521.19" r="1.2" fill="#000"/>
<circle cx="111.72" cy="520.50" r="1.2" fill="#000"/>
<circle cx="99.89" cy="526.06" r="1.2" fill="#000"/>
<circle cx="103.37" cy="526.48" r="1.2" fill="#000"/>
<circle cx="106.85" cy="526.75" r="1.2" fill="#000"/>
<circle cx="98.50" cy="529.54" r="1.2" fill="#000"/>
<circle cx="101.98" cy="530.23" r="1.2" fill="#000"/>
<circle cx="105.46" cy="530.23" r="1.2" fill="#000"/>
<circle cx="108.93" cy="528.15" r="1.2" fill="#000"/>
<circle cx="101.28" cy="518.41" r="1.2" fill="#000"/>
<circle cx="106.15" cy="518.41" r="1.2" fill="#000"/>
<circle cx="175.58" cy="468.76" r="1.2" fill="#000"/>
<circle cx="173.91" cy="473.63" r="1.2" fill="#000"/>
<circle cx="177.11" cy="475.72" r="1.2" fill="#000"/>
<circle cx="173.91" cy="484.34" r="1.2" fill="#000"/>
<circle cx="177.11" cy="484.34" r="1.2" fill="#000"/>
<circle cx="173.91" cy="496.58" r="1.2" fill="#000"/>
<circle cx="177.11" cy="498.66" r="1.2" fill="#000"/>
<circle cx="172.52" cy="503.81" r="1.2" fill="#000"/>
<circle cx="175.30" cy="504.23" r="1.2" fill="#000"/>
<circle cx="178.08" cy="503.81" r="1.2" fill="#000"/>
<circle cx="175.58" cy="511.74" r="1.2" fill="#000"/>
<circle cx="172.24" cy="516.32" r="1.2" fill="#000"/>
<circle cx="175.58" cy="516.32" r="1.2" fill="#000"/>
<circle cx="178.77" cy="515.91" r="1.2" fill="#000"/>
<circle cx="173.91" cy="520.77" r="1.2" fill="#000"/>
<circle cx="177.11" cy="520.77" r="1.2" fill="#000"/>
<circle cx="175.58" cy="524.25" r="1.2" fill="#000"/>
<circle cx="175.58" cy="533.99" r="1.2" fill="#000"/>
<circle cx="211.46" cy="495.05" r="1.2" fill="#000"/>
<circle cx="205.20" cy="497.83" r="1.2" fill="#000"/>
<circle cx="207.98" cy="498.94" r="1.2" fill="#000"/>
<circle cx="211.46" cy="501.03" r="1.2" fill="#000"/>
<circle cx="214.93" cy="499.64" r="1.2" fill="#000"/>
<circle cx="217.72" cy="498.94" r="1.2" fill="#000"/>
<circle cx="211.46" cy="505.62" r="1.2" fill="#000"/>
<circle cx="209.79" cy="511.46" r="1.2" fill="#000"/>
<circle cx="213.13" cy="510.76" r="1.2" fill="#000"/>
<circle cx="211.46" cy="515.63" r="1.2" fill="#000"/>
<circle cx="211.46" cy="521.89" r="1.2" fill="#000"/>
<circle cx="211.46" cy="434.74" r="1.2" fill="#000"/>
<circle cx="211.46" cy="445.17" r="1.2" fill="#000"/>
<circle cx="211.46" cy="451.01" r="1.2" fill="#000"/>
<circle cx="207.98" cy="455.32" r="1.2" fill="#000"/>
<circle cx="211.46" cy="457.68" r="1.2" fill="#000"/>
<circle cx="214.93" cy="455.87" r="1.2" fill="#000"/>
<circle cx="211.46" cy="461.58" r="1.2" fill="#000"/>
<circle cx="277.60" cy="484.01" r="1.2" fill="#000"/>
<circle cx="275.93" cy="491.38" r="1.2" fill="#000"/>
<circle cx="279.27" cy="489.99" r="1.2" fill="#000"/>
<circle cx="277.60" cy="497.36" r="1.2" fill="#000"/>
<circle cx="272.74" cy="505.01" r="1.2" fill="#000"/>
<circle cx="275.93" cy="506.95" r="1.2" fill="#000"/>
<circle cx="277.60" cy="503.48" r="1.2" fill="#000"/>
<circle cx="279.27" cy="507.65" r="1.2" fill="#000"/>
<circle cx="282.47" cy="506.68" r="1.2" fill="#000"/>
<circle cx="276.91" cy="513.63" r="1.2" fill="#000"/>
<circle cx="281.08" cy="513.35" r="1.2" fill="#000"/>
<circle cx="274.13" cy="517.11" r="1.2" fill="#000"/>
<circle cx="277.60" cy="518.08" r="1.2" fill="#000"/>
<circle cx="280.80" cy="518.50" r="1.2" fill="#000"/>
<circle cx="271.07" cy="521.97" r="1.2" fill="#000"/>
<circle cx="274.13" cy="523.36" r="1.2" fill="#000"/>
<circle cx="277.60" cy="523.36" r="1.2" fill="#000"/>
<circle cx="281.08" cy="522.67" r="1.2" fill="#000"/>
<circle cx="284.14" cy="521.28" r="1.2" fill="#000"/>
<circle cx="272.74" cy="530.04" r="1.2" fill="#000"/>
<circle cx="276.21" cy="531.99" r="1.2" fill="#000"/>
<circle cx="279.41" cy="530.60" r="1.2" fill="#000"/>
<circle cx="282.47" cy="528.93" r="1.2" fill="#000"/>
<circle cx="276.91" cy="515.72" r="1.2" fill="#000"/>
<circle cx="310.28" cy="479.83" r="1.2" fill="#000"/>
<circle cx="313.76" cy="482.62" r="1.2" fill="#000"/>
<circle cx="316.96" cy="479.28" r="1.2" fill="#000"/>
<circle cx="311.95" cy="488.60" r="1.2" fill="#000"/>
<circle cx="315.15" cy="486.93" r="1.2" fill="#000"/>
<circle cx="311.95" cy="498.75" r="1.2" fill="#000"/>
<circle cx="316.96" cy="499.72" r="1.2" fill="#000"/>
<circle cx="315.15" cy="502.78" r="1.2" fill="#000"/>
<circle cx="313.07" cy="506.68" r="1.2" fill="#000"/>
<circle cx="305.42" cy="510.57" r="1.2" fill="#000"/>
<circle cx="308.20" cy="511.13" r="1.2" fill="#000"/>
<circle cx="310.98" cy="510.85" r="1.2" fill="#000"/>
<circle cx="314.18" cy="511.26" r="1.2" fill="#000"/>
<circle cx="317.93" cy="510.57" r="1.2" fill="#000"/>
<circle cx="320.02" cy="509.74" r="1.2" fill="#000"/>
<circle cx="310.28" cy="513.91" r="1.2" fill="#000"/>
<circle cx="313.76" cy="516.41" r="1.2" fill="#000"/>
<circle cx="317.24" cy="516.13" r="1.2" fill="#000"/>
<circle cx="311.95" cy="518.50" r="1.2" fill="#000"/>
<circle cx="315.15" cy="520.86" r="1.2" fill="#000"/>
<circle cx="310.28" cy="523.09" r="1.2" fill="#000"/>
<circle cx="316.96" cy="523.36" r="1.2" fill="#000"/>
<circle cx="313.76" cy="525.45" r="1.2" fill="#000"/>
<circle cx="313.76" cy="530.04" r="1.2" fill="#000"/>
<circle cx="313.76" cy="533.79" r="1.2" fill="#000"/>
<circle cx="417.19" cy="433.35" r="1.2" fill="#000"/>
<circle cx="417.19" cy="452.82" r="1.2" fill="#000"/>
<circle cx="417.19" cy="469.93" r="1.2" fill="#000"/>
<circle cx="417.19" cy="480.08" r="1.2" fill="#000"/>
<circle cx="417.19" cy="489.12" r="1.2" fill="#000"/>
<circle cx="415.52" cy="493.99" r="1.2" fill="#000"/>
<circle cx="418.99" cy="493.71" r="1.2" fill="#000"/>
<circle cx="414.13" cy="495.66" r="1.2" fill="#000"/>
<circle cx="416.91" cy="495.10" r="1.2" fill="#000"/>
<circle cx="420.38" cy="496.77" r="1.2" fill="#000"/>
<circle cx="416.91" cy="503.03" r="1.2" fill="#000"/>
<circle cx="414.13" cy="511.37" r="1.2" fill="#000"/>
<circle cx="417.19" cy="512.07" r="1.2" fill="#000"/>
<circle cx="420.38" cy="511.79" r="1.2" fill="#000"/>
<circle cx="412.04" cy="514.57" r="1.2" fill="#000"/>
<circle cx="415.52" cy="516.52" r="1.2" fill="#000"/>
<circle cx="418.99" cy="516.93" r="1.2" fill="#000"/>
<circle cx="422.19" cy="515.54" r="1.2" fill="#000"/>
<circle cx="412.04" cy="519.72" r="1.2" fill="#000"/>
<circle cx="415.52" cy="520.69" r="1.2" fill="#000"/>
<circle cx="418.58" cy="520.69" r="1.2" fill="#000"/>
<circle cx="422.19" cy="519.30" r="1.2" fill="#000"/>
<circle cx="453.07" cy="463.67" r="1.2" fill="#000"/>
<circle cx="450.01" cy="484.53" r="1.2" fill="#000"/>
<circle cx="453.07" cy="485.36" r="1.2" fill="#000"/>
<circle cx="456.26" cy="483.14" r="1.2" fill="#000"/>
<circle cx="453.07" cy="489.12" r="1.2" fill="#000"/>
<circle cx="451.40" cy="493.71" r="1.2" fill="#000"/>
<circle cx="454.74" cy="495.38" r="1.2" fill="#000"/>
<circle cx="450.28" cy="500.66" r="1.2" fill="#000"/>
<circle cx="453.07" cy="502.33" r="1.2" fill="#000"/>
<circle cx="457.93" cy="500.25" r="1.2" fill="#000"/>
<circle cx="448.20" cy="507.89" r="1.2" fill="#000"/>
<circle cx="451.68" cy="509.28" r="1.2" fill="#000"/>
<circle cx="454.74" cy="510.68" r="1.2" fill="#000"/>
<circle cx="457.93" cy="508.59" r="1.2" fill="#000"/>
<circle cx="450.01" cy="513.74" r="1.2" fill="#000"/>
<circle cx="453.07" cy="516.24" r="1.2" fill="#000"/>
<circle cx="456.54" cy="514.15" r="1.2" fill="#000"/>
<circle cx="448.20" cy="519.02" r="1.2" fill="#000"/>
<circle cx="451.40" cy="520.13" r="1.2" fill="#000"/>
<circle cx="454.74" cy="521.52" r="1.2" fill="#000"/>
<circle cx="457.93" cy="519.72" r="1.2" fill="#000"/>
<circle cx="453.07" cy="525.97" r="1.2" fill="#000"/>
<circle cx="521.40" cy="437.80" r="1.2" fill="#000"/>
<circle cx="521.88" cy="462.50" r="1.2" fill="#000"/>
<circle cx="521.88" cy="476.41" r="1.2" fill="#000"/>
<circle cx="521.88" cy="491.29" r="1.2" fill="#000"/>
<circle cx="520.91" cy="504.50" r="1.2" fill="#000"/>
<circle cx="523.41" cy="503.39" r="1.2" fill="#000"/>
<circle cx="518.13" cy="510.76" r="1.2" fill="#000"/>
<circle cx="521.88" cy="513.54" r="1.2" fill="#000"/>
<circle cx="525.08" cy="510.76" r="1.2" fill="#000"/>
<circle cx="520.21" cy="520.08" r="1.2" fill="#000"/>
<circle cx="523.69" cy="520.08" r="1.2" fill="#000"/>
<circle cx="518.40" cy="524.25" r="1.2" fill="#000"/>
<circle cx="521.88" cy="527.03" r="1.2" fill="#000"/>
<circle cx="525.08" cy="524.25" r="1.2" fill="#000"/>
<circle cx="521.88" cy="531.90" r="1.2" fill="#000"/>
<circle cx="557.76" cy="470.15" r="1.2" fill="#000"/>
<circle cx="557.76" cy="479.89" r="1.2" fill="#000"/>
<circle cx="557.76" cy="489.62" r="1.2" fill="#000"/>
<circle cx="557.76" cy="493.10" r="1.2" fill="#000"/>
<circle cx="557.76" cy="503.39" r="1.2" fill="#000"/>
<circle cx="556.37" cy="507.28" r="1.2" fill="#000"/>
<circle cx="559.15" cy="507.98" r="1.2" fill="#000"/>
<circle cx="555.68" cy="518.69" r="1.2" fill="#000"/>
<circle cx="559.15" cy="518.69" r="1.2" fill="#000"/>
<circle cx="557.76" cy="524.25" r="1.2" fill="#000"/>
<circle cx="555.95" cy="527.87" r="1.2" fill="#000"/>
<circle cx="559.15" cy="526.75" r="1.2" fill="#000"/>
<circle cx="557.76" cy="536.21" r="1.2" fill="#000"/>
<circle cx="557.76" cy="542.05" r="1.2" fill="#000"/>
<circle cx="630.97" cy="451.15" r="1.2" fill="#000"/>
<circle cx="630.97" cy="474.24" r="1.2" fill="#000"/>
<circle cx="630.97" cy="482.44" r="1.2" fill="#000"/>
<circle cx="630.97" cy="491.48" r="1.2" fill="#000"/>
<circle cx="629.30" cy="495.66" r="1.2" fill="#000"/>
<circle cx="630.97" cy="494.96" r="1.2" fill="#000"/>
<circle cx="632.77" cy="498.85" r="1.2" fill="#000"/>
<circle cx="630.97" cy="515.96" r="1.2" fill="#000"/>
<circle cx="629.02" cy="521.11" r="1.2" fill="#000"/>
<circle cx="632.77" cy="519.72" r="1.2" fill="#000"/>
<circle cx="630.97" cy="524.86" r="1.2" fill="#000"/>
<circle cx="632.77" cy="527.64" r="1.2" fill="#000"/>
<circle cx="627.91" cy="529.45" r="1.2" fill="#000"/>
<circle cx="629.30" cy="530.42" r="1.2" fill="#000"/>
<circle cx="632.77" cy="532.93" r="1.2" fill="#000"/>
<circle cx="630.97" cy="536.40" r="1.2" fill="#000"/>
<circle cx="627.21" cy="512.76" r="1.2" fill="#000"/>
<circle cx="634.86" cy="512.76" r="1.2" fill="#000"/>
<circle cx="666.85" cy="467.84" r="1.2" fill="#000"/>
<circle cx="665.18" cy="472.43" r="1.2" fill="#000"/>
<circle cx="668.66" cy="471.04" r="1.2" fill="#000"/>
<circle cx="666.85" cy="481.47" r="1.2" fill="#000"/>
<circle cx="665.18" cy="484.95" r="1.2" fill="#000"/>
<circle cx="668.66" cy="484.25" r="1.2" fill="#000"/>
<circle cx="666.85" cy="490.09" r="1.2" fill="#000"/>
<circle cx="666.85" cy="498.85" r="1.2" fill="#000"/>
<circle cx="665.46" cy="508.59" r="1.2" fill="#000"/>
<circle cx="666.85" cy="515.13" r="1.2" fill="#000"/>
<circle cx="666.85" cy="518.74" r="1.2" fill="#000"/>
<circle cx="663.79" cy="525.28" r="1.2" fill="#000"/>
<circle cx="667.13" cy="526.67" r="1.2" fill="#000"/>
<circle cx="670.32" cy="524.86" r="1.2" fill="#000"/>
<circle cx="665.18" cy="532.23" r="1.2" fill="#000"/>
<circle cx="668.66" cy="531.81" r="1.2" fill="#000"/>
<circle cx="664.07" cy="503.72" r="1.2" fill="#000"/>
<circle cx="669.63" cy="503.72" r="1.2" fill="#000"/>
</svg>
</body></html>
